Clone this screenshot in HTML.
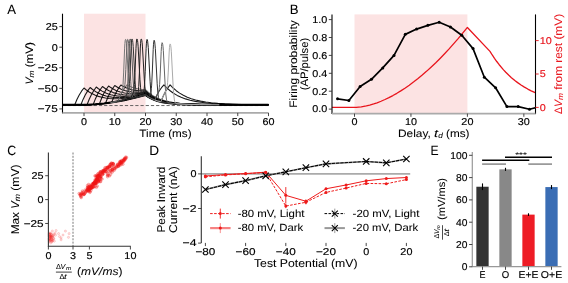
<!DOCTYPE html>
<html><head><meta charset="utf-8"><style>
html,body{margin:0;padding:0;background:#fff;width:568px;height:283px;overflow:hidden}
svg{display:block;will-change:transform}
text{font-family:"Liberation Sans",sans-serif;white-space:pre;text-rendering:geometricPrecision;stroke-width:0.06px}
</style></head><body>
<svg width="568" height="283" viewBox="0 0 568 283">
<rect width="568" height="283" fill="#fff"/>
<rect x="84.00" y="13.70" width="61.50" height="99.20" fill="#fce3e3"/>
<line x1="62.50" y1="105.55" x2="268.50" y2="105.55" stroke="#555" stroke-width="0.9" stroke-dasharray="3.2,2"/>
<polyline points="62.47,104.81 74.77,104.81 76.93,99.52 79.08,95.19 81.54,91.20 84.00,88.02 86.77,90.32 89.53,92.23 92.30,93.82 95.38,95.25 98.45,96.38 101.83,97.32 105.52,98.04 109.21,98.49 112.90,98.71 116.90,98.72 121.21,98.52 125.51,98.11 130.12,97.50 135.04,96.65 140.27,95.58 145.50,94.34 148.27,96.32 151.03,97.93 154.11,99.36 157.49,100.60 161.18,101.62 165.18,102.45 169.79,103.14 175.02,103.68 179.94,104.03 185.78,104.31 200.85,104.64 222.68,104.78 268.50,104.81" fill="none" stroke="#000" stroke-width="1.1" stroke-linejoin="round" stroke-opacity="0.9"/>
<polyline points="62.47,104.81 80.92,104.81 83.08,99.42 85.23,94.99 87.69,90.86 90.15,87.51 91.99,89.04 94.15,90.61 96.30,91.96 98.76,93.28 101.22,94.37 103.68,95.27 106.14,95.99 108.91,96.62 112.60,97.19 116.59,97.51 120.90,97.58 125.20,97.39 129.82,96.95 134.74,96.26 139.96,95.30 145.50,94.08 148.27,96.10 151.03,97.74 154.11,99.20 157.18,100.36 160.57,101.36 164.56,102.25 168.87,102.95 173.48,103.49 178.71,103.91 184.55,104.23 199.93,104.62 222.07,104.77 268.50,104.81" fill="none" stroke="#000" stroke-width="1.1" stroke-linejoin="round" stroke-opacity="0.9"/>
<polyline points="62.47,104.81 87.07,104.76 89.23,99.26 91.38,94.71 93.84,90.45 96.30,87.01 98.14,88.49 100.30,89.99 102.14,91.12 104.29,92.25 106.45,93.21 108.60,94.01 110.75,94.67 113.21,95.28 116.59,95.86 119.98,96.21 123.67,96.36 127.66,96.28 131.97,95.96 136.27,95.43 140.89,94.67 145.50,93.74 147.96,95.60 150.73,97.32 153.80,98.85 156.88,100.07 160.26,101.12 164.26,102.07 168.56,102.81 173.17,103.38 178.40,103.84 184.24,104.17 199.62,104.60 222.07,104.76 268.50,104.81" fill="none" stroke="#000" stroke-width="1.1" stroke-linejoin="round" stroke-opacity="0.9"/>
<polyline points="62.47,104.81 84.92,104.80 93.22,104.47 95.38,98.91 97.53,94.32 99.99,90.01 102.45,86.50 105.83,88.96 107.68,90.08 109.52,91.05 113.21,92.60 117.21,93.79 120.28,94.41 123.36,94.81 126.74,95.03 130.12,95.05 133.81,94.88 137.50,94.53 141.50,93.98 145.50,93.27 147.96,95.19 150.73,96.97 153.80,98.56 156.88,99.82 160.26,100.91 164.26,101.90 168.56,102.68 173.17,103.28 178.40,103.76 184.55,104.13 191.62,104.40 199.93,104.58 222.37,104.76 268.50,104.81" fill="none" stroke="#000" stroke-width="1.1" stroke-linejoin="round" stroke-opacity="0.9"/>
<polyline points="62.47,104.81 86.46,104.78 92.61,104.51 99.37,103.96 101.53,98.43 103.68,93.83 106.14,89.52 108.60,85.99 110.44,87.33 112.29,88.50 114.13,89.52 115.98,90.40 118.13,91.26 120.28,91.97 122.44,92.54 124.59,92.99 129.20,93.56 134.12,93.70 139.66,93.40 145.50,92.65 148.27,94.87 151.03,96.69 154.11,98.31 157.18,99.60 160.57,100.73 164.26,101.67 168.56,102.50 173.17,103.14 178.40,103.65 184.55,104.05 191.62,104.34 200.23,104.55 222.99,104.75 268.50,104.81" fill="none" stroke="#000" stroke-width="1.1" stroke-linejoin="round" stroke-opacity="0.9"/>
<polyline points="62.47,104.81 84.31,104.81 88.30,104.72 96.61,104.21 105.52,103.27 107.68,97.81 109.83,93.27 112.29,88.99 114.75,85.48 117.82,87.47 121.21,89.17 124.59,90.44 128.28,91.40 132.28,92.02 136.27,92.29 140.89,92.22 145.50,91.83 148.27,94.17 151.03,96.08 154.11,97.79 157.18,99.17 160.57,100.36 164.56,101.45 168.87,102.32 173.48,103.00 179.02,103.57 185.17,103.99 192.24,104.30 200.85,104.52 223.60,104.74 268.50,104.81" fill="none" stroke="#000" stroke-width="1.1" stroke-linejoin="round" stroke-opacity="0.9"/>
<polyline points="62.47,104.81 84.31,104.81 90.15,104.64 95.38,104.31 100.60,103.84 106.14,103.19 111.67,102.41 113.83,97.08 115.98,92.64 118.44,88.43 120.90,84.98 123.36,86.47 126.13,87.83 128.89,88.89 131.97,89.76 135.04,90.35 138.43,90.73 141.81,90.86 145.50,90.76 148.27,93.25 151.03,95.28 154.11,97.12 157.18,98.60 160.57,99.89 164.56,101.07 168.87,102.02 173.79,102.80 179.32,103.42 185.47,103.88 192.85,104.24 201.46,104.48 224.53,104.73 268.50,104.80" fill="none" stroke="#000" stroke-width="1.1" stroke-linejoin="round" stroke-opacity="0.9"/>
<polyline points="62.47,104.81 84.92,104.80 92.61,104.51 98.76,104.02 104.91,103.35 111.37,102.45 117.82,101.38 119.98,96.37 122.13,92.17 124.59,88.19 127.05,84.89 129.20,86.03 131.35,86.98 133.51,87.75 135.66,88.36 137.81,88.83 140.27,89.21 142.73,89.44 145.50,89.54 148.27,92.20 151.34,94.60 154.42,96.53 157.80,98.23 161.49,99.68 165.49,100.88 169.79,101.86 174.71,102.67 180.25,103.32 186.40,103.81 193.78,104.18 202.39,104.44 225.45,104.72 268.50,104.80" fill="none" stroke="#000" stroke-width="1.1" stroke-linejoin="round" stroke-opacity="0.5"/>
<polyline points="62.47,104.81 87.69,104.74 95.68,104.29 103.99,103.46 114.13,102.02 124.28,100.14 134.74,97.78 145.50,94.93 147.65,96.45 149.80,97.73 152.26,98.96 154.72,99.98 156.88,95.19 159.03,91.29 161.49,87.72 163.95,84.89 167.02,88.09 170.10,90.76 173.48,93.21 177.17,95.39 181.17,97.28 185.47,98.90 190.09,100.24 195.31,101.40 200.85,102.30 206.69,102.99 213.15,103.54 220.84,103.98 229.45,104.29 239.59,104.51 268.50,104.75" fill="none" stroke="#000" stroke-width="1.1" stroke-linejoin="round" stroke-opacity="0.9"/>
<polyline points="62.47,104.81 87.69,104.74 95.68,104.29 103.99,103.46 114.13,102.02 124.28,100.14 134.74,97.78 145.50,94.93 147.04,96.04 148.88,97.21 152.57,99.10 156.57,100.62 160.87,101.81 163.03,96.46 165.18,92.09 166.41,89.97 167.64,88.08 170.10,84.89 173.17,88.04 176.25,90.68 179.63,93.10 183.32,95.27 187.32,97.17 191.32,98.68 195.62,99.98 200.54,101.13 205.77,102.05 211.30,102.77 217.76,103.38 224.83,103.84 232.83,104.18 242.36,104.44 268.50,104.72" fill="none" stroke="#000" stroke-width="1.1" stroke-linejoin="round" stroke-opacity="0.9"/>
<polyline points="62.47,104.81 87.69,104.74 95.68,104.29 103.99,103.46 114.13,102.02 124.28,100.14 134.74,97.78 145.50,94.93 148.27,96.84 151.03,98.38 154.11,99.74 157.49,100.91 161.18,101.88 165.18,102.66 169.79,103.30 174.71,103.78 185.47,104.36 200.23,104.67 221.76,104.78 268.50,104.81" fill="none" stroke="#000" stroke-width="2.1" stroke-linejoin="round"/>
<polyline points="110.44,102.59 117.82,101.38 119.36,97.71 121.51,93.22 122.13,91.51 122.44,90.04 122.74,87.71 123.05,84.09 123.67,72.07 124.59,48.87 124.90,43.52 125.20,40.45 125.51,39.38 125.82,39.63 126.13,40.84 126.43,43.29 126.74,47.01 128.59,81.88 129.20,90.27 129.82,95.11 130.12,96.46 130.43,97.31 130.74,97.80 131.05,98.06 131.35,98.17 132.58,98.07 138.73,96.63 145.50,94.85 148.27,96.77 151.03,98.32 154.11,99.70 157.49,100.88 161.18,101.85 165.18,102.64 169.79,103.29 174.71,103.77" fill="none" stroke="#777" stroke-width="1.0" stroke-linejoin="round"/>
<polyline points="112.60,102.26 117.82,101.38 120.28,95.72 121.82,92.73 123.67,89.52 124.28,88.01 124.59,86.66 124.90,84.47 125.20,81.03 125.82,69.55 126.74,47.31 127.05,42.19 127.36,39.83 127.66,39.38 127.97,39.62 128.28,40.83 128.59,43.25 128.89,46.94 130.74,81.53 131.35,89.84 131.97,94.64 132.28,95.98 132.58,96.82 132.89,97.30 133.20,97.56 133.51,97.66 134.43,97.61 139.66,96.38 145.50,94.84 148.27,96.76 151.34,98.47 154.72,99.93 158.11,101.05 162.10,102.05 166.41,102.84 171.33,103.46 176.86,103.93" fill="none" stroke="#666" stroke-width="1.0" stroke-linejoin="round"/>
<polyline points="115.06,101.86 123.97,100.20 126.13,95.49 126.74,93.70 127.05,92.16 127.36,89.71 127.66,85.91 128.28,73.29 129.20,48.93 129.51,43.31 129.82,40.09 130.12,38.97 130.43,39.21 130.74,40.41 131.05,42.82 131.35,46.49 133.20,80.99 133.81,89.28 134.43,94.06 134.74,95.39 135.04,96.23 135.35,96.71 135.66,96.96 135.97,97.06 136.89,97.00 145.50,94.82 148.57,96.93 151.65,98.60 155.03,100.03 159.03,101.31 163.33,102.30 167.95,103.05 173.17,103.64 179.32,104.08" fill="none" stroke="#555" stroke-width="1.0" stroke-linejoin="round"/>
<polyline points="116.90,101.55 123.97,100.20 125.82,96.19 127.97,92.13 128.59,90.53 128.89,89.11 129.20,86.83 129.51,83.27 130.12,71.36 131.05,48.33 131.35,43.02 131.66,40.00 131.97,38.97 132.28,39.20 132.58,40.39 132.89,42.78 133.20,46.43 135.04,80.66 135.66,88.88 136.27,93.62 136.58,94.95 136.89,95.77 137.20,96.25 137.50,96.49 137.81,96.59 138.43,96.58 145.50,94.80 148.57,96.92 151.96,98.74 155.34,100.14 159.34,101.38 163.95,102.41 168.87,103.17 174.40,103.74 181.17,104.18" fill="none" stroke="#333" stroke-width="1.0" stroke-linejoin="round"/>
<polyline points="121.82,100.63 130.12,98.87 132.89,93.53 133.51,91.91 133.81,90.47 134.12,88.13 134.43,84.47 135.04,72.25 135.97,48.57 136.27,43.13 136.58,40.02 136.89,38.97 137.20,39.19 137.50,40.35 137.81,42.69 138.12,46.25 139.96,79.75 140.58,87.79 141.19,92.42 141.50,93.71 141.81,94.51 142.12,94.97 142.42,95.20 143.04,95.30 145.50,94.73 147.04,95.86 148.88,97.05 150.73,98.09 152.88,99.12 155.03,99.99 157.18,100.73 162.10,102.03 166.72,102.86 172.25,103.54 178.71,104.04 186.09,104.38" fill="none" stroke="#222" stroke-width="1.0" stroke-linejoin="round"/>
<polyline points="126.13,99.75 136.27,97.40 137.20,95.65 137.81,93.98 138.12,92.49 138.43,90.07 138.73,86.27 139.35,73.56 140.27,48.94 140.58,43.28 140.89,40.05 141.19,38.97 141.50,39.18 141.81,40.31 142.12,42.59 142.42,46.09 144.27,78.89 144.88,86.76 145.19,89.41 145.81,92.87 146.11,93.97 146.73,95.25 147.34,95.93 148.88,96.99 151.03,98.19 153.19,99.21 155.34,100.07 157.49,100.80 162.41,102.07 167.95,103.03 174.10,103.70 181.48,104.19 190.39,104.50" fill="none" stroke="#222" stroke-width="1.0" stroke-linejoin="round"/>
<polyline points="131.97,98.45 142.42,95.79 143.35,93.32 143.65,92.19 143.96,90.56 144.27,88.06 144.58,84.24 145.19,71.77 146.11,48.45 146.42,43.20 146.73,40.27 147.04,39.38 147.34,39.88 147.65,41.28 148.27,47.56 150.11,81.65 150.73,89.95 151.03,92.81 151.65,96.40 151.96,97.40 152.57,98.52 153.19,99.04 154.11,99.50 156.26,100.32 158.41,101.01 163.03,102.16 167.95,103.00 173.48,103.63 179.63,104.08 187.01,104.40 196.24,104.61" fill="none" stroke="#222" stroke-width="1.0" stroke-linejoin="round"/>
<polyline points="139.04,96.69 145.50,94.93 148.57,97.03 150.11,94.09 150.73,92.48 151.03,91.04 151.34,88.73 151.65,85.12 152.26,73.03 153.19,49.64 153.49,44.27 153.80,41.22 154.11,40.20 154.42,40.63 154.72,42.01 155.34,48.42 157.18,83.75 157.80,92.32 158.41,97.39 158.72,98.88 159.03,99.87 159.34,100.51 159.64,100.91 160.26,101.34 162.72,102.00 167.64,102.89 173.48,103.59 179.02,104.02 185.78,104.34 203.31,104.69" fill="none" stroke="#333" stroke-width="1.0" stroke-linejoin="round"/>
<polyline points="147.04,96.04 148.88,97.21 150.73,98.22 152.57,99.10 154.72,99.98 156.26,96.46 158.11,92.79 158.72,91.19 159.03,89.81 159.34,87.64 159.64,84.26 160.26,73.07 161.18,51.47 161.49,46.49 161.80,43.65 162.10,42.67 162.41,43.04 162.72,44.36 163.03,46.89 163.33,50.66 165.18,85.63 165.79,94.10 166.41,99.08 166.72,100.52 167.02,101.47 167.33,102.07 167.95,102.65 169.18,102.99 174.10,103.58 179.94,104.03 192.55,104.52 211.30,104.74" fill="none" stroke="#666" stroke-width="1.0" stroke-linejoin="round"/>
<polyline points="155.03,100.09 157.80,101.00 160.87,101.81 162.10,98.62 163.33,95.78 164.56,93.25 166.10,90.41 166.72,88.90 167.02,87.63 167.33,85.60 167.64,82.47 168.25,72.09 169.18,52.07 169.48,47.46 169.79,44.82 170.10,43.91 170.41,44.25 170.71,45.54 171.02,48.04 171.33,51.79 173.17,86.62 173.79,95.04 174.40,99.98 174.71,101.40 175.02,102.33 175.33,102.91 175.94,103.46 176.86,103.69 186.09,104.27 199.31,104.62 219.30,104.77" fill="none" stroke="#aaa" stroke-width="1.0" stroke-linejoin="round"/>
<line x1="62.50" y1="13.70" x2="62.50" y2="113.40" stroke="#000" stroke-width="1.1"/>
<line x1="62.50" y1="112.90" x2="268.50" y2="112.90" stroke="#aaa" stroke-width="1.6"/>
<line x1="59.30" y1="26.63" x2="62.50" y2="26.63" stroke="#333" stroke-width="0.9"/>
<text x="57.70" y="29.98" font-size="9.92" text-anchor="end" textLength="12.02" lengthAdjust="spacingAndGlyphs" stroke="#000" style="stroke-width:0.16px">25</text>
<line x1="59.30" y1="47.20" x2="62.50" y2="47.20" stroke="#333" stroke-width="0.9"/>
<text x="57.70" y="50.55" font-size="9.92" text-anchor="end" textLength="6.01" lengthAdjust="spacingAndGlyphs" stroke="#000" style="stroke-width:0.16px">0</text>
<line x1="59.30" y1="67.78" x2="62.50" y2="67.78" stroke="#333" stroke-width="0.9"/>
<text x="57.70" y="71.12" font-size="9.92" text-anchor="end" textLength="19.94" lengthAdjust="spacingAndGlyphs" stroke="#000" style="stroke-width:0.16px">−25</text>
<line x1="59.30" y1="88.35" x2="62.50" y2="88.35" stroke="#333" stroke-width="0.9"/>
<text x="57.70" y="91.70" font-size="9.92" text-anchor="end" textLength="19.94" lengthAdjust="spacingAndGlyphs" stroke="#000" style="stroke-width:0.16px">−50</text>
<line x1="59.30" y1="108.92" x2="62.50" y2="108.92" stroke="#333" stroke-width="0.9"/>
<text x="57.70" y="112.27" font-size="9.92" text-anchor="end" textLength="19.94" lengthAdjust="spacingAndGlyphs" stroke="#000" style="stroke-width:0.16px">−75</text>
<line x1="84.00" y1="112.90" x2="84.00" y2="116.10" stroke="#333" stroke-width="0.9"/>
<text x="84.00" y="124.70" font-size="9.92" text-anchor="middle" textLength="6.01" lengthAdjust="spacingAndGlyphs" stroke="#000" style="stroke-width:0.16px">0</text>
<line x1="114.75" y1="112.90" x2="114.75" y2="116.10" stroke="#333" stroke-width="0.9"/>
<text x="114.75" y="124.70" font-size="9.92" text-anchor="middle" textLength="12.02" lengthAdjust="spacingAndGlyphs" stroke="#000" style="stroke-width:0.16px">10</text>
<line x1="145.50" y1="112.90" x2="145.50" y2="116.10" stroke="#333" stroke-width="0.9"/>
<text x="145.50" y="124.70" font-size="9.92" text-anchor="middle" textLength="12.02" lengthAdjust="spacingAndGlyphs" stroke="#000" style="stroke-width:0.16px">20</text>
<line x1="176.25" y1="112.90" x2="176.25" y2="116.10" stroke="#333" stroke-width="0.9"/>
<text x="176.25" y="124.70" font-size="9.92" text-anchor="middle" textLength="12.02" lengthAdjust="spacingAndGlyphs" stroke="#000" style="stroke-width:0.16px">30</text>
<line x1="207.00" y1="112.90" x2="207.00" y2="116.10" stroke="#333" stroke-width="0.9"/>
<text x="207.00" y="124.70" font-size="9.92" text-anchor="middle" textLength="12.02" lengthAdjust="spacingAndGlyphs" stroke="#000" style="stroke-width:0.16px">40</text>
<line x1="237.75" y1="112.90" x2="237.75" y2="116.10" stroke="#333" stroke-width="0.9"/>
<text x="237.75" y="124.70" font-size="9.92" text-anchor="middle" textLength="12.02" lengthAdjust="spacingAndGlyphs" stroke="#000" style="stroke-width:0.16px">50</text>
<line x1="268.50" y1="112.90" x2="268.50" y2="116.10" stroke="#333" stroke-width="0.9"/>
<text x="268.50" y="124.70" font-size="9.92" text-anchor="middle" textLength="12.02" lengthAdjust="spacingAndGlyphs" stroke="#000" style="stroke-width:0.16px">60</text>
<text x="165.50" y="137.00" font-size="10.82" text-anchor="middle" textLength="52.23" lengthAdjust="spacingAndGlyphs" stroke="#000">Time (ms)</text>
<g transform="translate(32.50 63.35) rotate(-90)">
<text x="-21.23" y="0.00" font-size="10.82" textLength="7.05" lengthAdjust="spacingAndGlyphs" stroke="#000" font-style="italic">V</text>
<text x="-14.18" y="1.40" font-size="7.57" textLength="7.02" lengthAdjust="spacingAndGlyphs" stroke="#000" font-style="italic">m</text>
<text x="-7.16" y="0.00" font-size="10.82" textLength="28.39" lengthAdjust="spacingAndGlyphs" stroke="#000"> (mV)</text>
</g>
<text x="7.30" y="13.60" font-size="13.44" textLength="8.76" lengthAdjust="spacingAndGlyphs" stroke="#000">A</text>
<rect x="354.50" y="14.40" width="112.90" height="99.20" fill="#fce3e3"/>
<defs><clipPath id="cb"><rect x="332.0" y="14.4" width="203.5" height="99.19999999999999"/></clipPath></defs>
<polyline points="331.92,107.40 356.19,107.35 361.27,106.85 366.35,105.92 369.74,105.09 373.69,103.93 377.08,102.77 381.03,101.24 384.98,99.52 388.93,97.63 392.89,95.55 396.84,93.31 400.79,90.90 405.31,87.94 409.26,85.19 413.77,81.84 417.72,78.75 422.24,75.03 426.76,71.11 431.27,67.00 435.79,62.70 440.30,58.21 444.82,53.53 449.34,48.67 458.37,38.41 467.40,27.44 489.98,51.35 492.24,54.97 494.50,58.35 496.75,61.51 499.01,64.47 503.53,69.83 505.79,72.25 508.61,75.06 511.43,77.65 514.82,80.48 517.64,82.63 521.03,84.99 524.41,87.12 527.80,89.05 531.19,90.80 535.14,92.63" fill="none" stroke="#e8141c" stroke-width="1.3" stroke-linejoin="round"/>
<g clip-path="url(#cb)">
<polyline points="337.56,98.81 348.86,100.51 360.14,86.50 371.44,79.30 382.73,67.93 394.01,55.40 405.31,34.37 416.60,29.09 427.88,25.33 439.18,22.28 450.46,27.03 461.75,35.30 473.04,48.60 484.33,77.24 495.62,87.80 506.91,106.59 518.20,106.59 529.50,109.28 540.78,106.41" fill="none" stroke="#000" stroke-width="1.7" stroke-linejoin="round"/>
<circle cx="337.56" cy="98.81" r="1.5" fill="#000"/>
<circle cx="348.86" cy="100.51" r="1.5" fill="#000"/>
<circle cx="360.14" cy="86.50" r="1.5" fill="#000"/>
<circle cx="371.44" cy="79.30" r="1.5" fill="#000"/>
<circle cx="382.73" cy="67.93" r="1.5" fill="#000"/>
<circle cx="394.01" cy="55.40" r="1.5" fill="#000"/>
<circle cx="405.31" cy="34.37" r="1.5" fill="#000"/>
<circle cx="416.60" cy="29.09" r="1.5" fill="#000"/>
<circle cx="427.88" cy="25.33" r="1.5" fill="#000"/>
<circle cx="439.18" cy="22.28" r="1.5" fill="#000"/>
<circle cx="450.46" cy="27.03" r="1.5" fill="#000"/>
<circle cx="461.75" cy="35.30" r="1.5" fill="#000"/>
<circle cx="473.04" cy="48.60" r="1.5" fill="#000"/>
<circle cx="484.33" cy="77.24" r="1.5" fill="#000"/>
<circle cx="495.62" cy="87.80" r="1.5" fill="#000"/>
<circle cx="506.91" cy="106.59" r="1.5" fill="#000"/>
<circle cx="518.20" cy="106.59" r="1.5" fill="#000"/>
<circle cx="529.50" cy="109.28" r="1.5" fill="#000"/>
</g>
<line x1="332.00" y1="14.40" x2="332.00" y2="114.10" stroke="#000" stroke-width="1.1"/>
<line x1="535.50" y1="14.40" x2="535.50" y2="114.10" stroke="#000" stroke-width="1.1"/>
<line x1="332.00" y1="113.60" x2="535.50" y2="113.60" stroke="#aaa" stroke-width="1.6"/>
<line x1="328.80" y1="109.10" x2="332.00" y2="109.10" stroke="#333" stroke-width="0.9"/>
<text x="327.20" y="112.45" font-size="9.92" text-anchor="end" textLength="15.03" lengthAdjust="spacingAndGlyphs" stroke="#000" style="stroke-width:0.16px">0.0</text>
<line x1="328.80" y1="91.20" x2="332.00" y2="91.20" stroke="#333" stroke-width="0.9"/>
<text x="327.20" y="94.55" font-size="9.92" text-anchor="end" textLength="15.03" lengthAdjust="spacingAndGlyphs" stroke="#000" style="stroke-width:0.16px">0.2</text>
<line x1="328.80" y1="73.30" x2="332.00" y2="73.30" stroke="#333" stroke-width="0.9"/>
<text x="327.20" y="76.65" font-size="9.92" text-anchor="end" textLength="15.03" lengthAdjust="spacingAndGlyphs" stroke="#000" style="stroke-width:0.16px">0.4</text>
<line x1="328.80" y1="55.40" x2="332.00" y2="55.40" stroke="#333" stroke-width="0.9"/>
<text x="327.20" y="58.75" font-size="9.92" text-anchor="end" textLength="15.03" lengthAdjust="spacingAndGlyphs" stroke="#000" style="stroke-width:0.16px">0.6</text>
<line x1="328.80" y1="37.50" x2="332.00" y2="37.50" stroke="#333" stroke-width="0.9"/>
<text x="327.20" y="40.85" font-size="9.92" text-anchor="end" textLength="15.03" lengthAdjust="spacingAndGlyphs" stroke="#000" style="stroke-width:0.16px">0.8</text>
<line x1="328.80" y1="19.60" x2="332.00" y2="19.60" stroke="#333" stroke-width="0.9"/>
<text x="327.20" y="22.95" font-size="9.92" text-anchor="end" textLength="15.03" lengthAdjust="spacingAndGlyphs" stroke="#000" style="stroke-width:0.16px">1.0</text>
<line x1="535.50" y1="107.40" x2="538.70" y2="107.40" stroke="#e8141c" stroke-width="0.9"/>
<text x="539.70" y="110.75" font-size="9.92" textLength="6.01" lengthAdjust="spacingAndGlyphs" stroke="#e8141c" fill="#e8141c" style="stroke-width:0.16px">0</text>
<line x1="535.50" y1="74.00" x2="538.70" y2="74.00" stroke="#e8141c" stroke-width="0.9"/>
<text x="539.70" y="77.35" font-size="9.92" textLength="6.01" lengthAdjust="spacingAndGlyphs" stroke="#e8141c" fill="#e8141c" style="stroke-width:0.16px">5</text>
<line x1="535.50" y1="40.60" x2="538.70" y2="40.60" stroke="#e8141c" stroke-width="0.9"/>
<text x="539.70" y="43.95" font-size="9.92" textLength="12.02" lengthAdjust="spacingAndGlyphs" stroke="#e8141c" fill="#e8141c" style="stroke-width:0.16px">10</text>
<line x1="354.50" y1="113.60" x2="354.50" y2="116.80" stroke="#333" stroke-width="0.9"/>
<text x="354.50" y="125.40" font-size="9.92" text-anchor="middle" textLength="6.01" lengthAdjust="spacingAndGlyphs" stroke="#000" style="stroke-width:0.16px">0</text>
<line x1="410.95" y1="113.60" x2="410.95" y2="116.80" stroke="#333" stroke-width="0.9"/>
<text x="410.95" y="125.40" font-size="9.92" text-anchor="middle" textLength="12.02" lengthAdjust="spacingAndGlyphs" stroke="#000" style="stroke-width:0.16px">10</text>
<line x1="467.40" y1="113.60" x2="467.40" y2="116.80" stroke="#333" stroke-width="0.9"/>
<text x="467.40" y="125.40" font-size="9.92" text-anchor="middle" textLength="12.02" lengthAdjust="spacingAndGlyphs" stroke="#000" style="stroke-width:0.16px">20</text>
<line x1="523.85" y1="113.60" x2="523.85" y2="116.80" stroke="#333" stroke-width="0.9"/>
<text x="523.85" y="125.40" font-size="9.92" text-anchor="middle" textLength="12.02" lengthAdjust="spacingAndGlyphs" stroke="#000" style="stroke-width:0.16px">30</text>
<text x="398.04" y="137.00" font-size="10.82" textLength="36.09" lengthAdjust="spacingAndGlyphs" stroke="#000">Delay, </text>
<text x="434.13" y="137.00" font-size="10.82" textLength="4.04" lengthAdjust="spacingAndGlyphs" stroke="#000" font-style="italic">t</text>
<text x="438.17" y="138.40" font-size="7.57" textLength="4.58" lengthAdjust="spacingAndGlyphs" stroke="#000" font-style="italic">d</text>
<text x="442.74" y="137.00" font-size="10.82" textLength="26.71" lengthAdjust="spacingAndGlyphs" stroke="#000"> (ms)</text>
<text x="297.20" y="64.00" font-size="10.82" text-anchor="middle" textLength="87.40" lengthAdjust="spacingAndGlyphs" stroke="#000" transform="rotate(-90 297.20 64.00)">Firing probability</text>
<text x="308.30" y="64.00" font-size="10.82" text-anchor="middle" textLength="52.40" lengthAdjust="spacingAndGlyphs" stroke="#000" transform="rotate(-90 308.30 64.00)">(AP/pulse)</text>
<g transform="translate(561.80 64.00) rotate(-90)" fill="#e8141c">
<text x="-50.11" y="0.00" font-size="10.82" textLength="7.05" lengthAdjust="spacingAndGlyphs" stroke="#e8141c" fill="#e8141c">Δ</text>
<text x="-43.07" y="0.00" font-size="10.82" textLength="7.05" lengthAdjust="spacingAndGlyphs" stroke="#e8141c" fill="#e8141c" font-style="italic">V</text>
<text x="-36.02" y="1.40" font-size="7.57" textLength="7.02" lengthAdjust="spacingAndGlyphs" stroke="#e8141c" fill="#e8141c" font-style="italic">m</text>
<text x="-29.00" y="0.00" font-size="10.82" textLength="79.11" lengthAdjust="spacingAndGlyphs" stroke="#e8141c" fill="#e8141c"> from rest (mV)</text>
</g>
<text x="289.80" y="13.60" font-size="13.44" textLength="8.78" lengthAdjust="spacingAndGlyphs" stroke="#000">B</text>
<circle cx="79.08" cy="193.50" r="1.3" fill="#f01818" fill-opacity="0.25" stroke="#f01818" stroke-opacity="0.42" stroke-width="0.55"/>
<circle cx="80.28" cy="195.42" r="1.3" fill="#f01818" fill-opacity="0.25" stroke="#f01818" stroke-opacity="0.42" stroke-width="0.55"/>
<circle cx="89.85" cy="192.52" r="1.3" fill="#f01818" fill-opacity="0.25" stroke="#f01818" stroke-opacity="0.42" stroke-width="0.55"/>
<circle cx="83.55" cy="191.98" r="1.3" fill="#f01818" fill-opacity="0.25" stroke="#f01818" stroke-opacity="0.42" stroke-width="0.55"/>
<circle cx="82.91" cy="193.70" r="1.3" fill="#f01818" fill-opacity="0.25" stroke="#f01818" stroke-opacity="0.42" stroke-width="0.55"/>
<circle cx="81.29" cy="197.62" r="1.3" fill="#f01818" fill-opacity="0.25" stroke="#f01818" stroke-opacity="0.42" stroke-width="0.55"/>
<circle cx="89.80" cy="188.85" r="1.3" fill="#f01818" fill-opacity="0.25" stroke="#f01818" stroke-opacity="0.42" stroke-width="0.55"/>
<circle cx="80.82" cy="196.97" r="1.3" fill="#f01818" fill-opacity="0.25" stroke="#f01818" stroke-opacity="0.42" stroke-width="0.55"/>
<circle cx="89.76" cy="188.76" r="1.3" fill="#f01818" fill-opacity="0.25" stroke="#f01818" stroke-opacity="0.42" stroke-width="0.55"/>
<circle cx="87.93" cy="190.24" r="1.3" fill="#f01818" fill-opacity="0.25" stroke="#f01818" stroke-opacity="0.42" stroke-width="0.55"/>
<circle cx="86.98" cy="190.88" r="1.3" fill="#f01818" fill-opacity="0.25" stroke="#f01818" stroke-opacity="0.42" stroke-width="0.55"/>
<circle cx="87.90" cy="189.82" r="1.3" fill="#f01818" fill-opacity="0.25" stroke="#f01818" stroke-opacity="0.42" stroke-width="0.55"/>
<circle cx="84.71" cy="193.63" r="1.3" fill="#f01818" fill-opacity="0.25" stroke="#f01818" stroke-opacity="0.42" stroke-width="0.55"/>
<circle cx="83.29" cy="194.15" r="1.3" fill="#f01818" fill-opacity="0.25" stroke="#f01818" stroke-opacity="0.42" stroke-width="0.55"/>
<circle cx="82.33" cy="190.99" r="1.3" fill="#f01818" fill-opacity="0.25" stroke="#f01818" stroke-opacity="0.42" stroke-width="0.55"/>
<circle cx="87.27" cy="190.02" r="1.3" fill="#f01818" fill-opacity="0.25" stroke="#f01818" stroke-opacity="0.42" stroke-width="0.55"/>
<circle cx="81.56" cy="194.19" r="1.3" fill="#f01818" fill-opacity="0.25" stroke="#f01818" stroke-opacity="0.42" stroke-width="0.55"/>
<circle cx="84.96" cy="189.94" r="1.3" fill="#f01818" fill-opacity="0.25" stroke="#f01818" stroke-opacity="0.42" stroke-width="0.55"/>
<circle cx="87.85" cy="188.59" r="1.3" fill="#f01818" fill-opacity="0.25" stroke="#f01818" stroke-opacity="0.42" stroke-width="0.55"/>
<circle cx="81.52" cy="193.90" r="1.3" fill="#f01818" fill-opacity="0.25" stroke="#f01818" stroke-opacity="0.42" stroke-width="0.55"/>
<circle cx="82.12" cy="192.61" r="1.3" fill="#f01818" fill-opacity="0.25" stroke="#f01818" stroke-opacity="0.42" stroke-width="0.55"/>
<circle cx="88.01" cy="190.90" r="1.3" fill="#f01818" fill-opacity="0.25" stroke="#f01818" stroke-opacity="0.42" stroke-width="0.55"/>
<circle cx="80.27" cy="195.01" r="1.3" fill="#f01818" fill-opacity="0.25" stroke="#f01818" stroke-opacity="0.42" stroke-width="0.55"/>
<circle cx="86.52" cy="190.36" r="1.3" fill="#f01818" fill-opacity="0.25" stroke="#f01818" stroke-opacity="0.42" stroke-width="0.55"/>
<circle cx="80.71" cy="193.61" r="1.3" fill="#f01818" fill-opacity="0.25" stroke="#f01818" stroke-opacity="0.42" stroke-width="0.55"/>
<circle cx="85.44" cy="191.92" r="1.3" fill="#f01818" fill-opacity="0.25" stroke="#f01818" stroke-opacity="0.42" stroke-width="0.55"/>
<circle cx="85.68" cy="192.45" r="1.3" fill="#f01818" fill-opacity="0.25" stroke="#f01818" stroke-opacity="0.42" stroke-width="0.55"/>
<circle cx="84.26" cy="194.16" r="1.3" fill="#f01818" fill-opacity="0.25" stroke="#f01818" stroke-opacity="0.42" stroke-width="0.55"/>
<circle cx="84.07" cy="194.51" r="1.3" fill="#f01818" fill-opacity="0.25" stroke="#f01818" stroke-opacity="0.42" stroke-width="0.55"/>
<circle cx="89.04" cy="188.94" r="1.3" fill="#f01818" fill-opacity="0.25" stroke="#f01818" stroke-opacity="0.42" stroke-width="0.55"/>
<circle cx="87.22" cy="187.66" r="1.3" fill="#f01818" fill-opacity="0.25" stroke="#f01818" stroke-opacity="0.42" stroke-width="0.55"/>
<circle cx="83.52" cy="194.69" r="1.3" fill="#f01818" fill-opacity="0.25" stroke="#f01818" stroke-opacity="0.42" stroke-width="0.55"/>
<circle cx="86.27" cy="191.67" r="1.3" fill="#f01818" fill-opacity="0.25" stroke="#f01818" stroke-opacity="0.42" stroke-width="0.55"/>
<circle cx="80.20" cy="194.48" r="1.3" fill="#f01818" fill-opacity="0.25" stroke="#f01818" stroke-opacity="0.42" stroke-width="0.55"/>
<circle cx="81.29" cy="196.13" r="1.3" fill="#f01818" fill-opacity="0.25" stroke="#f01818" stroke-opacity="0.42" stroke-width="0.55"/>
<circle cx="95.36" cy="180.25" r="1.3" fill="#f01818" fill-opacity="0.25" stroke="#f01818" stroke-opacity="0.42" stroke-width="0.55"/>
<circle cx="90.34" cy="186.10" r="1.3" fill="#f01818" fill-opacity="0.25" stroke="#f01818" stroke-opacity="0.42" stroke-width="0.55"/>
<circle cx="91.42" cy="187.63" r="1.3" fill="#f01818" fill-opacity="0.25" stroke="#f01818" stroke-opacity="0.42" stroke-width="0.55"/>
<circle cx="93.29" cy="184.16" r="1.3" fill="#f01818" fill-opacity="0.25" stroke="#f01818" stroke-opacity="0.42" stroke-width="0.55"/>
<circle cx="94.70" cy="182.77" r="1.3" fill="#f01818" fill-opacity="0.25" stroke="#f01818" stroke-opacity="0.42" stroke-width="0.55"/>
<circle cx="89.64" cy="187.13" r="1.3" fill="#f01818" fill-opacity="0.25" stroke="#f01818" stroke-opacity="0.42" stroke-width="0.55"/>
<circle cx="88.82" cy="191.34" r="1.3" fill="#f01818" fill-opacity="0.25" stroke="#f01818" stroke-opacity="0.42" stroke-width="0.55"/>
<circle cx="91.67" cy="187.93" r="1.3" fill="#f01818" fill-opacity="0.25" stroke="#f01818" stroke-opacity="0.42" stroke-width="0.55"/>
<circle cx="98.64" cy="181.92" r="1.3" fill="#f01818" fill-opacity="0.25" stroke="#f01818" stroke-opacity="0.42" stroke-width="0.55"/>
<circle cx="93.79" cy="183.15" r="1.3" fill="#f01818" fill-opacity="0.25" stroke="#f01818" stroke-opacity="0.42" stroke-width="0.55"/>
<circle cx="96.50" cy="187.30" r="1.3" fill="#f01818" fill-opacity="0.25" stroke="#f01818" stroke-opacity="0.42" stroke-width="0.55"/>
<circle cx="87.07" cy="189.68" r="1.3" fill="#f01818" fill-opacity="0.25" stroke="#f01818" stroke-opacity="0.42" stroke-width="0.55"/>
<circle cx="95.55" cy="183.31" r="1.3" fill="#f01818" fill-opacity="0.25" stroke="#f01818" stroke-opacity="0.42" stroke-width="0.55"/>
<circle cx="96.06" cy="183.70" r="1.3" fill="#f01818" fill-opacity="0.25" stroke="#f01818" stroke-opacity="0.42" stroke-width="0.55"/>
<circle cx="95.06" cy="179.71" r="1.3" fill="#f01818" fill-opacity="0.25" stroke="#f01818" stroke-opacity="0.42" stroke-width="0.55"/>
<circle cx="89.07" cy="190.50" r="1.3" fill="#f01818" fill-opacity="0.25" stroke="#f01818" stroke-opacity="0.42" stroke-width="0.55"/>
<circle cx="95.43" cy="181.15" r="1.3" fill="#f01818" fill-opacity="0.25" stroke="#f01818" stroke-opacity="0.42" stroke-width="0.55"/>
<circle cx="89.38" cy="190.06" r="1.3" fill="#f01818" fill-opacity="0.25" stroke="#f01818" stroke-opacity="0.42" stroke-width="0.55"/>
<circle cx="88.37" cy="186.98" r="1.3" fill="#f01818" fill-opacity="0.25" stroke="#f01818" stroke-opacity="0.42" stroke-width="0.55"/>
<circle cx="91.17" cy="186.36" r="1.3" fill="#f01818" fill-opacity="0.25" stroke="#f01818" stroke-opacity="0.42" stroke-width="0.55"/>
<circle cx="93.30" cy="183.14" r="1.3" fill="#f01818" fill-opacity="0.25" stroke="#f01818" stroke-opacity="0.42" stroke-width="0.55"/>
<circle cx="100.19" cy="179.99" r="1.3" fill="#f01818" fill-opacity="0.25" stroke="#f01818" stroke-opacity="0.42" stroke-width="0.55"/>
<circle cx="90.86" cy="186.19" r="1.3" fill="#f01818" fill-opacity="0.25" stroke="#f01818" stroke-opacity="0.42" stroke-width="0.55"/>
<circle cx="87.45" cy="185.44" r="1.3" fill="#f01818" fill-opacity="0.25" stroke="#f01818" stroke-opacity="0.42" stroke-width="0.55"/>
<circle cx="87.90" cy="186.80" r="1.3" fill="#f01818" fill-opacity="0.25" stroke="#f01818" stroke-opacity="0.42" stroke-width="0.55"/>
<circle cx="96.61" cy="179.06" r="1.3" fill="#f01818" fill-opacity="0.25" stroke="#f01818" stroke-opacity="0.42" stroke-width="0.55"/>
<circle cx="92.28" cy="185.30" r="1.3" fill="#f01818" fill-opacity="0.25" stroke="#f01818" stroke-opacity="0.42" stroke-width="0.55"/>
<circle cx="97.28" cy="186.05" r="1.3" fill="#f01818" fill-opacity="0.25" stroke="#f01818" stroke-opacity="0.42" stroke-width="0.55"/>
<circle cx="90.55" cy="187.28" r="1.3" fill="#f01818" fill-opacity="0.25" stroke="#f01818" stroke-opacity="0.42" stroke-width="0.55"/>
<circle cx="91.05" cy="186.72" r="1.3" fill="#f01818" fill-opacity="0.25" stroke="#f01818" stroke-opacity="0.42" stroke-width="0.55"/>
<circle cx="93.90" cy="183.06" r="1.3" fill="#f01818" fill-opacity="0.25" stroke="#f01818" stroke-opacity="0.42" stroke-width="0.55"/>
<circle cx="99.37" cy="180.00" r="1.3" fill="#f01818" fill-opacity="0.25" stroke="#f01818" stroke-opacity="0.42" stroke-width="0.55"/>
<circle cx="95.99" cy="183.54" r="1.3" fill="#f01818" fill-opacity="0.25" stroke="#f01818" stroke-opacity="0.42" stroke-width="0.55"/>
<circle cx="99.82" cy="177.92" r="1.3" fill="#f01818" fill-opacity="0.25" stroke="#f01818" stroke-opacity="0.42" stroke-width="0.55"/>
<circle cx="89.06" cy="188.19" r="1.3" fill="#f01818" fill-opacity="0.25" stroke="#f01818" stroke-opacity="0.42" stroke-width="0.55"/>
<circle cx="94.37" cy="183.17" r="1.3" fill="#f01818" fill-opacity="0.25" stroke="#f01818" stroke-opacity="0.42" stroke-width="0.55"/>
<circle cx="98.34" cy="180.18" r="1.3" fill="#f01818" fill-opacity="0.25" stroke="#f01818" stroke-opacity="0.42" stroke-width="0.55"/>
<circle cx="94.70" cy="184.08" r="1.3" fill="#f01818" fill-opacity="0.25" stroke="#f01818" stroke-opacity="0.42" stroke-width="0.55"/>
<circle cx="97.14" cy="179.15" r="1.3" fill="#f01818" fill-opacity="0.25" stroke="#f01818" stroke-opacity="0.42" stroke-width="0.55"/>
<circle cx="101.06" cy="176.49" r="1.3" fill="#f01818" fill-opacity="0.25" stroke="#f01818" stroke-opacity="0.42" stroke-width="0.55"/>
<circle cx="89.94" cy="185.86" r="1.3" fill="#f01818" fill-opacity="0.25" stroke="#f01818" stroke-opacity="0.42" stroke-width="0.55"/>
<circle cx="94.04" cy="183.81" r="1.3" fill="#f01818" fill-opacity="0.25" stroke="#f01818" stroke-opacity="0.42" stroke-width="0.55"/>
<circle cx="101.22" cy="178.58" r="1.3" fill="#f01818" fill-opacity="0.25" stroke="#f01818" stroke-opacity="0.42" stroke-width="0.55"/>
<circle cx="97.07" cy="179.90" r="1.3" fill="#f01818" fill-opacity="0.25" stroke="#f01818" stroke-opacity="0.42" stroke-width="0.55"/>
<circle cx="97.17" cy="182.78" r="1.3" fill="#f01818" fill-opacity="0.25" stroke="#f01818" stroke-opacity="0.42" stroke-width="0.55"/>
<circle cx="96.05" cy="182.02" r="1.3" fill="#f01818" fill-opacity="0.25" stroke="#f01818" stroke-opacity="0.42" stroke-width="0.55"/>
<circle cx="88.70" cy="184.40" r="1.3" fill="#f01818" fill-opacity="0.25" stroke="#f01818" stroke-opacity="0.42" stroke-width="0.55"/>
<circle cx="91.63" cy="188.28" r="1.3" fill="#f01818" fill-opacity="0.25" stroke="#f01818" stroke-opacity="0.42" stroke-width="0.55"/>
<circle cx="94.89" cy="181.29" r="1.3" fill="#f01818" fill-opacity="0.25" stroke="#f01818" stroke-opacity="0.42" stroke-width="0.55"/>
<circle cx="93.09" cy="186.26" r="1.3" fill="#f01818" fill-opacity="0.25" stroke="#f01818" stroke-opacity="0.42" stroke-width="0.55"/>
<circle cx="96.95" cy="179.18" r="1.3" fill="#f01818" fill-opacity="0.25" stroke="#f01818" stroke-opacity="0.42" stroke-width="0.55"/>
<circle cx="102.14" cy="179.08" r="1.3" fill="#f01818" fill-opacity="0.25" stroke="#f01818" stroke-opacity="0.42" stroke-width="0.55"/>
<circle cx="94.32" cy="183.48" r="1.3" fill="#f01818" fill-opacity="0.25" stroke="#f01818" stroke-opacity="0.42" stroke-width="0.55"/>
<circle cx="87.57" cy="188.17" r="1.3" fill="#f01818" fill-opacity="0.25" stroke="#f01818" stroke-opacity="0.42" stroke-width="0.55"/>
<circle cx="93.18" cy="183.42" r="1.3" fill="#f01818" fill-opacity="0.25" stroke="#f01818" stroke-opacity="0.42" stroke-width="0.55"/>
<circle cx="95.12" cy="183.44" r="1.3" fill="#f01818" fill-opacity="0.25" stroke="#f01818" stroke-opacity="0.42" stroke-width="0.55"/>
<circle cx="89.16" cy="187.24" r="1.3" fill="#f01818" fill-opacity="0.25" stroke="#f01818" stroke-opacity="0.42" stroke-width="0.55"/>
<circle cx="96.18" cy="179.10" r="1.3" fill="#f01818" fill-opacity="0.25" stroke="#f01818" stroke-opacity="0.42" stroke-width="0.55"/>
<circle cx="98.14" cy="179.68" r="1.3" fill="#f01818" fill-opacity="0.25" stroke="#f01818" stroke-opacity="0.42" stroke-width="0.55"/>
<circle cx="98.86" cy="180.84" r="1.3" fill="#f01818" fill-opacity="0.25" stroke="#f01818" stroke-opacity="0.42" stroke-width="0.55"/>
<circle cx="97.85" cy="179.16" r="1.3" fill="#f01818" fill-opacity="0.25" stroke="#f01818" stroke-opacity="0.42" stroke-width="0.55"/>
<circle cx="100.63" cy="176.60" r="1.3" fill="#f01818" fill-opacity="0.25" stroke="#f01818" stroke-opacity="0.42" stroke-width="0.55"/>
<circle cx="96.56" cy="182.52" r="1.3" fill="#f01818" fill-opacity="0.25" stroke="#f01818" stroke-opacity="0.42" stroke-width="0.55"/>
<circle cx="92.52" cy="187.17" r="1.3" fill="#f01818" fill-opacity="0.25" stroke="#f01818" stroke-opacity="0.42" stroke-width="0.55"/>
<circle cx="98.04" cy="178.60" r="1.3" fill="#f01818" fill-opacity="0.25" stroke="#f01818" stroke-opacity="0.42" stroke-width="0.55"/>
<circle cx="91.91" cy="183.96" r="1.3" fill="#f01818" fill-opacity="0.25" stroke="#f01818" stroke-opacity="0.42" stroke-width="0.55"/>
<circle cx="90.86" cy="187.99" r="1.3" fill="#f01818" fill-opacity="0.25" stroke="#f01818" stroke-opacity="0.42" stroke-width="0.55"/>
<circle cx="93.63" cy="186.86" r="1.3" fill="#f01818" fill-opacity="0.25" stroke="#f01818" stroke-opacity="0.42" stroke-width="0.55"/>
<circle cx="91.09" cy="187.11" r="1.3" fill="#f01818" fill-opacity="0.25" stroke="#f01818" stroke-opacity="0.42" stroke-width="0.55"/>
<circle cx="90.21" cy="191.67" r="1.3" fill="#f01818" fill-opacity="0.25" stroke="#f01818" stroke-opacity="0.42" stroke-width="0.55"/>
<circle cx="95.30" cy="184.16" r="1.3" fill="#f01818" fill-opacity="0.25" stroke="#f01818" stroke-opacity="0.42" stroke-width="0.55"/>
<circle cx="91.05" cy="188.36" r="1.3" fill="#f01818" fill-opacity="0.25" stroke="#f01818" stroke-opacity="0.42" stroke-width="0.55"/>
<circle cx="92.69" cy="187.75" r="1.3" fill="#f01818" fill-opacity="0.25" stroke="#f01818" stroke-opacity="0.42" stroke-width="0.55"/>
<circle cx="94.85" cy="183.16" r="1.3" fill="#f01818" fill-opacity="0.25" stroke="#f01818" stroke-opacity="0.42" stroke-width="0.55"/>
<circle cx="95.18" cy="182.22" r="1.3" fill="#f01818" fill-opacity="0.25" stroke="#f01818" stroke-opacity="0.42" stroke-width="0.55"/>
<circle cx="92.97" cy="185.69" r="1.3" fill="#f01818" fill-opacity="0.25" stroke="#f01818" stroke-opacity="0.42" stroke-width="0.55"/>
<circle cx="88.96" cy="189.21" r="1.3" fill="#f01818" fill-opacity="0.25" stroke="#f01818" stroke-opacity="0.42" stroke-width="0.55"/>
<circle cx="97.39" cy="178.77" r="1.3" fill="#f01818" fill-opacity="0.25" stroke="#f01818" stroke-opacity="0.42" stroke-width="0.55"/>
<circle cx="88.04" cy="189.58" r="1.3" fill="#f01818" fill-opacity="0.25" stroke="#f01818" stroke-opacity="0.42" stroke-width="0.55"/>
<circle cx="94.72" cy="181.74" r="1.3" fill="#f01818" fill-opacity="0.25" stroke="#f01818" stroke-opacity="0.42" stroke-width="0.55"/>
<circle cx="93.83" cy="186.90" r="1.3" fill="#f01818" fill-opacity="0.25" stroke="#f01818" stroke-opacity="0.42" stroke-width="0.55"/>
<circle cx="99.77" cy="177.11" r="1.3" fill="#f01818" fill-opacity="0.25" stroke="#f01818" stroke-opacity="0.42" stroke-width="0.55"/>
<circle cx="96.82" cy="180.87" r="1.3" fill="#f01818" fill-opacity="0.25" stroke="#f01818" stroke-opacity="0.42" stroke-width="0.55"/>
<circle cx="94.11" cy="182.57" r="1.3" fill="#f01818" fill-opacity="0.25" stroke="#f01818" stroke-opacity="0.42" stroke-width="0.55"/>
<circle cx="97.51" cy="179.90" r="1.3" fill="#f01818" fill-opacity="0.25" stroke="#f01818" stroke-opacity="0.42" stroke-width="0.55"/>
<circle cx="92.25" cy="184.43" r="1.3" fill="#f01818" fill-opacity="0.25" stroke="#f01818" stroke-opacity="0.42" stroke-width="0.55"/>
<circle cx="98.22" cy="181.27" r="1.3" fill="#f01818" fill-opacity="0.25" stroke="#f01818" stroke-opacity="0.42" stroke-width="0.55"/>
<circle cx="96.19" cy="180.86" r="1.3" fill="#f01818" fill-opacity="0.25" stroke="#f01818" stroke-opacity="0.42" stroke-width="0.55"/>
<circle cx="92.78" cy="184.66" r="1.3" fill="#f01818" fill-opacity="0.25" stroke="#f01818" stroke-opacity="0.42" stroke-width="0.55"/>
<circle cx="90.98" cy="190.46" r="1.3" fill="#f01818" fill-opacity="0.25" stroke="#f01818" stroke-opacity="0.42" stroke-width="0.55"/>
<circle cx="98.00" cy="181.21" r="1.3" fill="#f01818" fill-opacity="0.25" stroke="#f01818" stroke-opacity="0.42" stroke-width="0.55"/>
<circle cx="95.01" cy="186.77" r="1.3" fill="#f01818" fill-opacity="0.25" stroke="#f01818" stroke-opacity="0.42" stroke-width="0.55"/>
<circle cx="100.25" cy="181.51" r="1.3" fill="#f01818" fill-opacity="0.25" stroke="#f01818" stroke-opacity="0.42" stroke-width="0.55"/>
<circle cx="88.97" cy="187.45" r="1.3" fill="#f01818" fill-opacity="0.25" stroke="#f01818" stroke-opacity="0.42" stroke-width="0.55"/>
<circle cx="100.71" cy="181.59" r="1.3" fill="#f01818" fill-opacity="0.25" stroke="#f01818" stroke-opacity="0.42" stroke-width="0.55"/>
<circle cx="91.60" cy="187.15" r="1.3" fill="#f01818" fill-opacity="0.25" stroke="#f01818" stroke-opacity="0.42" stroke-width="0.55"/>
<circle cx="89.96" cy="188.80" r="1.3" fill="#f01818" fill-opacity="0.25" stroke="#f01818" stroke-opacity="0.42" stroke-width="0.55"/>
<circle cx="89.53" cy="189.72" r="1.3" fill="#f01818" fill-opacity="0.25" stroke="#f01818" stroke-opacity="0.42" stroke-width="0.55"/>
<circle cx="100.37" cy="177.95" r="1.3" fill="#f01818" fill-opacity="0.25" stroke="#f01818" stroke-opacity="0.42" stroke-width="0.55"/>
<circle cx="96.56" cy="181.38" r="1.3" fill="#f01818" fill-opacity="0.25" stroke="#f01818" stroke-opacity="0.42" stroke-width="0.55"/>
<circle cx="102.51" cy="174.60" r="1.3" fill="#f01818" fill-opacity="0.25" stroke="#f01818" stroke-opacity="0.42" stroke-width="0.55"/>
<circle cx="107.53" cy="169.40" r="1.3" fill="#f01818" fill-opacity="0.25" stroke="#f01818" stroke-opacity="0.42" stroke-width="0.55"/>
<circle cx="111.48" cy="166.69" r="1.3" fill="#f01818" fill-opacity="0.25" stroke="#f01818" stroke-opacity="0.42" stroke-width="0.55"/>
<circle cx="107.87" cy="168.90" r="1.3" fill="#f01818" fill-opacity="0.25" stroke="#f01818" stroke-opacity="0.42" stroke-width="0.55"/>
<circle cx="100.67" cy="171.85" r="1.3" fill="#f01818" fill-opacity="0.25" stroke="#f01818" stroke-opacity="0.42" stroke-width="0.55"/>
<circle cx="112.11" cy="165.91" r="1.3" fill="#f01818" fill-opacity="0.25" stroke="#f01818" stroke-opacity="0.42" stroke-width="0.55"/>
<circle cx="104.52" cy="170.70" r="1.3" fill="#f01818" fill-opacity="0.25" stroke="#f01818" stroke-opacity="0.42" stroke-width="0.55"/>
<circle cx="113.64" cy="164.61" r="1.3" fill="#f01818" fill-opacity="0.25" stroke="#f01818" stroke-opacity="0.42" stroke-width="0.55"/>
<circle cx="99.56" cy="173.69" r="1.3" fill="#f01818" fill-opacity="0.25" stroke="#f01818" stroke-opacity="0.42" stroke-width="0.55"/>
<circle cx="99.05" cy="175.59" r="1.3" fill="#f01818" fill-opacity="0.25" stroke="#f01818" stroke-opacity="0.42" stroke-width="0.55"/>
<circle cx="103.42" cy="173.63" r="1.3" fill="#f01818" fill-opacity="0.25" stroke="#f01818" stroke-opacity="0.42" stroke-width="0.55"/>
<circle cx="99.36" cy="174.56" r="1.3" fill="#f01818" fill-opacity="0.25" stroke="#f01818" stroke-opacity="0.42" stroke-width="0.55"/>
<circle cx="103.52" cy="170.56" r="1.3" fill="#f01818" fill-opacity="0.25" stroke="#f01818" stroke-opacity="0.42" stroke-width="0.55"/>
<circle cx="102.57" cy="173.84" r="1.3" fill="#f01818" fill-opacity="0.25" stroke="#f01818" stroke-opacity="0.42" stroke-width="0.55"/>
<circle cx="97.47" cy="177.28" r="1.3" fill="#f01818" fill-opacity="0.25" stroke="#f01818" stroke-opacity="0.42" stroke-width="0.55"/>
<circle cx="99.31" cy="175.23" r="1.3" fill="#f01818" fill-opacity="0.25" stroke="#f01818" stroke-opacity="0.42" stroke-width="0.55"/>
<circle cx="104.98" cy="169.10" r="1.3" fill="#f01818" fill-opacity="0.25" stroke="#f01818" stroke-opacity="0.42" stroke-width="0.55"/>
<circle cx="107.62" cy="167.37" r="1.3" fill="#f01818" fill-opacity="0.25" stroke="#f01818" stroke-opacity="0.42" stroke-width="0.55"/>
<circle cx="95.44" cy="176.38" r="1.3" fill="#f01818" fill-opacity="0.25" stroke="#f01818" stroke-opacity="0.42" stroke-width="0.55"/>
<circle cx="105.86" cy="171.60" r="1.3" fill="#f01818" fill-opacity="0.25" stroke="#f01818" stroke-opacity="0.42" stroke-width="0.55"/>
<circle cx="100.76" cy="176.95" r="1.3" fill="#f01818" fill-opacity="0.25" stroke="#f01818" stroke-opacity="0.42" stroke-width="0.55"/>
<circle cx="111.45" cy="164.25" r="1.3" fill="#f01818" fill-opacity="0.25" stroke="#f01818" stroke-opacity="0.42" stroke-width="0.55"/>
<circle cx="107.52" cy="167.39" r="1.3" fill="#f01818" fill-opacity="0.25" stroke="#f01818" stroke-opacity="0.42" stroke-width="0.55"/>
<circle cx="106.24" cy="168.85" r="1.3" fill="#f01818" fill-opacity="0.25" stroke="#f01818" stroke-opacity="0.42" stroke-width="0.55"/>
<circle cx="97.94" cy="175.85" r="1.3" fill="#f01818" fill-opacity="0.25" stroke="#f01818" stroke-opacity="0.42" stroke-width="0.55"/>
<circle cx="100.08" cy="176.36" r="1.3" fill="#f01818" fill-opacity="0.25" stroke="#f01818" stroke-opacity="0.42" stroke-width="0.55"/>
<circle cx="96.90" cy="176.93" r="1.3" fill="#f01818" fill-opacity="0.25" stroke="#f01818" stroke-opacity="0.42" stroke-width="0.55"/>
<circle cx="99.37" cy="174.94" r="1.3" fill="#f01818" fill-opacity="0.25" stroke="#f01818" stroke-opacity="0.42" stroke-width="0.55"/>
<circle cx="111.22" cy="163.13" r="1.3" fill="#f01818" fill-opacity="0.25" stroke="#f01818" stroke-opacity="0.42" stroke-width="0.55"/>
<circle cx="112.35" cy="163.37" r="1.3" fill="#f01818" fill-opacity="0.25" stroke="#f01818" stroke-opacity="0.42" stroke-width="0.55"/>
<circle cx="106.38" cy="171.91" r="1.3" fill="#f01818" fill-opacity="0.25" stroke="#f01818" stroke-opacity="0.42" stroke-width="0.55"/>
<circle cx="104.24" cy="169.82" r="1.3" fill="#f01818" fill-opacity="0.25" stroke="#f01818" stroke-opacity="0.42" stroke-width="0.55"/>
<circle cx="113.24" cy="163.42" r="1.3" fill="#f01818" fill-opacity="0.25" stroke="#f01818" stroke-opacity="0.42" stroke-width="0.55"/>
<circle cx="110.43" cy="164.65" r="1.3" fill="#f01818" fill-opacity="0.25" stroke="#f01818" stroke-opacity="0.42" stroke-width="0.55"/>
<circle cx="104.64" cy="171.22" r="1.3" fill="#f01818" fill-opacity="0.25" stroke="#f01818" stroke-opacity="0.42" stroke-width="0.55"/>
<circle cx="114.04" cy="166.10" r="1.3" fill="#f01818" fill-opacity="0.25" stroke="#f01818" stroke-opacity="0.42" stroke-width="0.55"/>
<circle cx="105.82" cy="171.84" r="1.3" fill="#f01818" fill-opacity="0.25" stroke="#f01818" stroke-opacity="0.42" stroke-width="0.55"/>
<circle cx="108.21" cy="167.58" r="1.3" fill="#f01818" fill-opacity="0.25" stroke="#f01818" stroke-opacity="0.42" stroke-width="0.55"/>
<circle cx="96.49" cy="175.48" r="1.3" fill="#f01818" fill-opacity="0.25" stroke="#f01818" stroke-opacity="0.42" stroke-width="0.55"/>
<circle cx="103.24" cy="172.21" r="1.3" fill="#f01818" fill-opacity="0.25" stroke="#f01818" stroke-opacity="0.42" stroke-width="0.55"/>
<circle cx="100.85" cy="173.02" r="1.3" fill="#f01818" fill-opacity="0.25" stroke="#f01818" stroke-opacity="0.42" stroke-width="0.55"/>
<circle cx="98.35" cy="175.84" r="1.3" fill="#f01818" fill-opacity="0.25" stroke="#f01818" stroke-opacity="0.42" stroke-width="0.55"/>
<circle cx="99.98" cy="171.82" r="1.3" fill="#f01818" fill-opacity="0.25" stroke="#f01818" stroke-opacity="0.42" stroke-width="0.55"/>
<circle cx="106.06" cy="167.49" r="1.3" fill="#f01818" fill-opacity="0.25" stroke="#f01818" stroke-opacity="0.42" stroke-width="0.55"/>
<circle cx="105.96" cy="169.57" r="1.3" fill="#f01818" fill-opacity="0.25" stroke="#f01818" stroke-opacity="0.42" stroke-width="0.55"/>
<circle cx="102.38" cy="172.26" r="1.3" fill="#f01818" fill-opacity="0.25" stroke="#f01818" stroke-opacity="0.42" stroke-width="0.55"/>
<circle cx="102.42" cy="170.70" r="1.3" fill="#f01818" fill-opacity="0.25" stroke="#f01818" stroke-opacity="0.42" stroke-width="0.55"/>
<circle cx="109.49" cy="166.86" r="1.3" fill="#f01818" fill-opacity="0.25" stroke="#f01818" stroke-opacity="0.42" stroke-width="0.55"/>
<circle cx="97.28" cy="175.44" r="1.3" fill="#f01818" fill-opacity="0.25" stroke="#f01818" stroke-opacity="0.42" stroke-width="0.55"/>
<circle cx="102.05" cy="173.69" r="1.3" fill="#f01818" fill-opacity="0.25" stroke="#f01818" stroke-opacity="0.42" stroke-width="0.55"/>
<circle cx="96.95" cy="176.36" r="1.3" fill="#f01818" fill-opacity="0.25" stroke="#f01818" stroke-opacity="0.42" stroke-width="0.55"/>
<circle cx="109.59" cy="166.51" r="1.3" fill="#f01818" fill-opacity="0.25" stroke="#f01818" stroke-opacity="0.42" stroke-width="0.55"/>
<circle cx="113.00" cy="163.88" r="1.3" fill="#f01818" fill-opacity="0.25" stroke="#f01818" stroke-opacity="0.42" stroke-width="0.55"/>
<circle cx="94.94" cy="175.74" r="1.3" fill="#f01818" fill-opacity="0.25" stroke="#f01818" stroke-opacity="0.42" stroke-width="0.55"/>
<circle cx="109.83" cy="166.09" r="1.3" fill="#f01818" fill-opacity="0.25" stroke="#f01818" stroke-opacity="0.42" stroke-width="0.55"/>
<circle cx="99.18" cy="175.76" r="1.3" fill="#f01818" fill-opacity="0.25" stroke="#f01818" stroke-opacity="0.42" stroke-width="0.55"/>
<circle cx="98.22" cy="173.71" r="1.3" fill="#f01818" fill-opacity="0.25" stroke="#f01818" stroke-opacity="0.42" stroke-width="0.55"/>
<circle cx="103.17" cy="171.24" r="1.3" fill="#f01818" fill-opacity="0.25" stroke="#f01818" stroke-opacity="0.42" stroke-width="0.55"/>
<circle cx="111.39" cy="163.25" r="1.3" fill="#f01818" fill-opacity="0.25" stroke="#f01818" stroke-opacity="0.42" stroke-width="0.55"/>
<circle cx="108.52" cy="166.81" r="1.3" fill="#f01818" fill-opacity="0.25" stroke="#f01818" stroke-opacity="0.42" stroke-width="0.55"/>
<circle cx="97.88" cy="173.88" r="1.3" fill="#f01818" fill-opacity="0.25" stroke="#f01818" stroke-opacity="0.42" stroke-width="0.55"/>
<circle cx="105.51" cy="169.99" r="1.3" fill="#f01818" fill-opacity="0.25" stroke="#f01818" stroke-opacity="0.42" stroke-width="0.55"/>
<circle cx="98.14" cy="177.00" r="1.3" fill="#f01818" fill-opacity="0.25" stroke="#f01818" stroke-opacity="0.42" stroke-width="0.55"/>
<circle cx="109.79" cy="167.07" r="1.3" fill="#f01818" fill-opacity="0.25" stroke="#f01818" stroke-opacity="0.42" stroke-width="0.55"/>
<circle cx="107.62" cy="167.90" r="1.3" fill="#f01818" fill-opacity="0.25" stroke="#f01818" stroke-opacity="0.42" stroke-width="0.55"/>
<circle cx="101.23" cy="171.97" r="1.3" fill="#f01818" fill-opacity="0.25" stroke="#f01818" stroke-opacity="0.42" stroke-width="0.55"/>
<circle cx="97.17" cy="176.86" r="1.3" fill="#f01818" fill-opacity="0.25" stroke="#f01818" stroke-opacity="0.42" stroke-width="0.55"/>
<circle cx="103.63" cy="170.75" r="1.3" fill="#f01818" fill-opacity="0.25" stroke="#f01818" stroke-opacity="0.42" stroke-width="0.55"/>
<circle cx="97.21" cy="178.57" r="1.3" fill="#f01818" fill-opacity="0.25" stroke="#f01818" stroke-opacity="0.42" stroke-width="0.55"/>
<circle cx="109.94" cy="165.17" r="1.3" fill="#f01818" fill-opacity="0.25" stroke="#f01818" stroke-opacity="0.42" stroke-width="0.55"/>
<circle cx="113.25" cy="163.75" r="1.3" fill="#f01818" fill-opacity="0.25" stroke="#f01818" stroke-opacity="0.42" stroke-width="0.55"/>
<circle cx="100.23" cy="174.88" r="1.3" fill="#f01818" fill-opacity="0.25" stroke="#f01818" stroke-opacity="0.42" stroke-width="0.55"/>
<circle cx="104.11" cy="171.17" r="1.3" fill="#f01818" fill-opacity="0.25" stroke="#f01818" stroke-opacity="0.42" stroke-width="0.55"/>
<circle cx="100.35" cy="172.07" r="1.3" fill="#f01818" fill-opacity="0.25" stroke="#f01818" stroke-opacity="0.42" stroke-width="0.55"/>
<circle cx="103.02" cy="170.88" r="1.3" fill="#f01818" fill-opacity="0.25" stroke="#f01818" stroke-opacity="0.42" stroke-width="0.55"/>
<circle cx="104.88" cy="167.74" r="1.3" fill="#f01818" fill-opacity="0.25" stroke="#f01818" stroke-opacity="0.42" stroke-width="0.55"/>
<circle cx="102.57" cy="171.87" r="1.3" fill="#f01818" fill-opacity="0.25" stroke="#f01818" stroke-opacity="0.42" stroke-width="0.55"/>
<circle cx="102.66" cy="174.37" r="1.3" fill="#f01818" fill-opacity="0.25" stroke="#f01818" stroke-opacity="0.42" stroke-width="0.55"/>
<circle cx="107.59" cy="167.04" r="1.3" fill="#f01818" fill-opacity="0.25" stroke="#f01818" stroke-opacity="0.42" stroke-width="0.55"/>
<circle cx="110.06" cy="164.34" r="1.3" fill="#f01818" fill-opacity="0.25" stroke="#f01818" stroke-opacity="0.42" stroke-width="0.55"/>
<circle cx="119.98" cy="161.62" r="1.3" fill="#f01818" fill-opacity="0.25" stroke="#f01818" stroke-opacity="0.42" stroke-width="0.55"/>
<circle cx="117.11" cy="165.09" r="1.3" fill="#f01818" fill-opacity="0.25" stroke="#f01818" stroke-opacity="0.42" stroke-width="0.55"/>
<circle cx="110.90" cy="171.80" r="1.3" fill="#f01818" fill-opacity="0.25" stroke="#f01818" stroke-opacity="0.42" stroke-width="0.55"/>
<circle cx="107.55" cy="176.85" r="1.3" fill="#f01818" fill-opacity="0.25" stroke="#f01818" stroke-opacity="0.42" stroke-width="0.55"/>
<circle cx="111.91" cy="169.67" r="1.3" fill="#f01818" fill-opacity="0.25" stroke="#f01818" stroke-opacity="0.42" stroke-width="0.55"/>
<circle cx="109.48" cy="171.64" r="1.3" fill="#f01818" fill-opacity="0.25" stroke="#f01818" stroke-opacity="0.42" stroke-width="0.55"/>
<circle cx="112.70" cy="169.34" r="1.3" fill="#f01818" fill-opacity="0.25" stroke="#f01818" stroke-opacity="0.42" stroke-width="0.55"/>
<circle cx="121.18" cy="161.85" r="1.3" fill="#f01818" fill-opacity="0.25" stroke="#f01818" stroke-opacity="0.42" stroke-width="0.55"/>
<circle cx="118.19" cy="166.17" r="1.3" fill="#f01818" fill-opacity="0.25" stroke="#f01818" stroke-opacity="0.42" stroke-width="0.55"/>
<circle cx="118.48" cy="166.36" r="1.3" fill="#f01818" fill-opacity="0.25" stroke="#f01818" stroke-opacity="0.42" stroke-width="0.55"/>
<circle cx="124.36" cy="160.81" r="1.3" fill="#f01818" fill-opacity="0.25" stroke="#f01818" stroke-opacity="0.42" stroke-width="0.55"/>
<circle cx="120.09" cy="165.09" r="1.3" fill="#f01818" fill-opacity="0.25" stroke="#f01818" stroke-opacity="0.42" stroke-width="0.55"/>
<circle cx="107.86" cy="173.10" r="1.3" fill="#f01818" fill-opacity="0.25" stroke="#f01818" stroke-opacity="0.42" stroke-width="0.55"/>
<circle cx="124.42" cy="158.36" r="1.3" fill="#f01818" fill-opacity="0.25" stroke="#f01818" stroke-opacity="0.42" stroke-width="0.55"/>
<circle cx="125.93" cy="158.03" r="1.3" fill="#f01818" fill-opacity="0.25" stroke="#f01818" stroke-opacity="0.42" stroke-width="0.55"/>
<circle cx="109.66" cy="175.88" r="1.3" fill="#f01818" fill-opacity="0.25" stroke="#f01818" stroke-opacity="0.42" stroke-width="0.55"/>
<circle cx="107.40" cy="174.99" r="1.3" fill="#f01818" fill-opacity="0.25" stroke="#f01818" stroke-opacity="0.42" stroke-width="0.55"/>
<circle cx="120.07" cy="162.58" r="1.3" fill="#f01818" fill-opacity="0.25" stroke="#f01818" stroke-opacity="0.42" stroke-width="0.55"/>
<circle cx="112.14" cy="169.49" r="1.3" fill="#f01818" fill-opacity="0.25" stroke="#f01818" stroke-opacity="0.42" stroke-width="0.55"/>
<circle cx="114.73" cy="168.42" r="1.3" fill="#f01818" fill-opacity="0.25" stroke="#f01818" stroke-opacity="0.42" stroke-width="0.55"/>
<circle cx="123.32" cy="161.84" r="1.3" fill="#f01818" fill-opacity="0.25" stroke="#f01818" stroke-opacity="0.42" stroke-width="0.55"/>
<circle cx="119.41" cy="164.31" r="1.3" fill="#f01818" fill-opacity="0.25" stroke="#f01818" stroke-opacity="0.42" stroke-width="0.55"/>
<circle cx="113.02" cy="170.62" r="1.3" fill="#f01818" fill-opacity="0.25" stroke="#f01818" stroke-opacity="0.42" stroke-width="0.55"/>
<circle cx="119.41" cy="163.03" r="1.3" fill="#f01818" fill-opacity="0.25" stroke="#f01818" stroke-opacity="0.42" stroke-width="0.55"/>
<circle cx="114.95" cy="167.80" r="1.3" fill="#f01818" fill-opacity="0.25" stroke="#f01818" stroke-opacity="0.42" stroke-width="0.55"/>
<circle cx="112.45" cy="169.43" r="1.3" fill="#f01818" fill-opacity="0.25" stroke="#f01818" stroke-opacity="0.42" stroke-width="0.55"/>
<circle cx="124.14" cy="159.44" r="1.3" fill="#f01818" fill-opacity="0.25" stroke="#f01818" stroke-opacity="0.42" stroke-width="0.55"/>
<circle cx="122.01" cy="162.46" r="1.3" fill="#f01818" fill-opacity="0.25" stroke="#f01818" stroke-opacity="0.42" stroke-width="0.55"/>
<circle cx="121.06" cy="161.89" r="1.3" fill="#f01818" fill-opacity="0.25" stroke="#f01818" stroke-opacity="0.42" stroke-width="0.55"/>
<circle cx="117.22" cy="166.27" r="1.3" fill="#f01818" fill-opacity="0.25" stroke="#f01818" stroke-opacity="0.42" stroke-width="0.55"/>
<circle cx="120.08" cy="163.64" r="1.3" fill="#f01818" fill-opacity="0.25" stroke="#f01818" stroke-opacity="0.42" stroke-width="0.55"/>
<circle cx="114.00" cy="168.54" r="1.3" fill="#f01818" fill-opacity="0.25" stroke="#f01818" stroke-opacity="0.42" stroke-width="0.55"/>
<circle cx="116.21" cy="167.21" r="1.3" fill="#f01818" fill-opacity="0.25" stroke="#f01818" stroke-opacity="0.42" stroke-width="0.55"/>
<circle cx="124.08" cy="159.19" r="1.3" fill="#f01818" fill-opacity="0.25" stroke="#f01818" stroke-opacity="0.42" stroke-width="0.55"/>
<circle cx="122.99" cy="164.19" r="1.3" fill="#f01818" fill-opacity="0.25" stroke="#f01818" stroke-opacity="0.42" stroke-width="0.55"/>
<circle cx="123.94" cy="160.06" r="1.3" fill="#f01818" fill-opacity="0.25" stroke="#f01818" stroke-opacity="0.42" stroke-width="0.55"/>
<circle cx="120.61" cy="163.29" r="1.3" fill="#f01818" fill-opacity="0.25" stroke="#f01818" stroke-opacity="0.42" stroke-width="0.55"/>
<circle cx="112.19" cy="172.20" r="1.3" fill="#f01818" fill-opacity="0.25" stroke="#f01818" stroke-opacity="0.42" stroke-width="0.55"/>
<circle cx="119.08" cy="163.86" r="1.3" fill="#f01818" fill-opacity="0.25" stroke="#f01818" stroke-opacity="0.42" stroke-width="0.55"/>
<circle cx="122.70" cy="161.82" r="1.3" fill="#f01818" fill-opacity="0.25" stroke="#f01818" stroke-opacity="0.42" stroke-width="0.55"/>
<circle cx="107.65" cy="175.16" r="1.3" fill="#f01818" fill-opacity="0.25" stroke="#f01818" stroke-opacity="0.42" stroke-width="0.55"/>
<circle cx="120.87" cy="162.33" r="1.3" fill="#f01818" fill-opacity="0.25" stroke="#f01818" stroke-opacity="0.42" stroke-width="0.55"/>
<circle cx="123.94" cy="160.50" r="1.3" fill="#f01818" fill-opacity="0.25" stroke="#f01818" stroke-opacity="0.42" stroke-width="0.55"/>
<circle cx="121.65" cy="160.36" r="1.3" fill="#f01818" fill-opacity="0.25" stroke="#f01818" stroke-opacity="0.42" stroke-width="0.55"/>
<circle cx="108.59" cy="175.19" r="1.3" fill="#f01818" fill-opacity="0.25" stroke="#f01818" stroke-opacity="0.42" stroke-width="0.55"/>
<circle cx="110.58" cy="174.30" r="1.3" fill="#f01818" fill-opacity="0.25" stroke="#f01818" stroke-opacity="0.42" stroke-width="0.55"/>
<circle cx="116.93" cy="166.11" r="1.3" fill="#f01818" fill-opacity="0.25" stroke="#f01818" stroke-opacity="0.42" stroke-width="0.55"/>
<circle cx="124.15" cy="159.13" r="1.3" fill="#f01818" fill-opacity="0.25" stroke="#f01818" stroke-opacity="0.42" stroke-width="0.55"/>
<circle cx="126.54" cy="157.29" r="1.3" fill="#f01818" fill-opacity="0.25" stroke="#f01818" stroke-opacity="0.42" stroke-width="0.55"/>
<circle cx="117.68" cy="164.09" r="1.3" fill="#f01818" fill-opacity="0.25" stroke="#f01818" stroke-opacity="0.42" stroke-width="0.55"/>
<circle cx="121.52" cy="163.57" r="1.3" fill="#f01818" fill-opacity="0.25" stroke="#f01818" stroke-opacity="0.42" stroke-width="0.55"/>
<circle cx="116.00" cy="168.08" r="1.3" fill="#f01818" fill-opacity="0.25" stroke="#f01818" stroke-opacity="0.42" stroke-width="0.55"/>
<circle cx="121.78" cy="160.86" r="1.3" fill="#f01818" fill-opacity="0.25" stroke="#f01818" stroke-opacity="0.42" stroke-width="0.55"/>
<circle cx="114.39" cy="170.16" r="1.3" fill="#f01818" fill-opacity="0.25" stroke="#f01818" stroke-opacity="0.42" stroke-width="0.55"/>
<circle cx="119.96" cy="161.37" r="1.3" fill="#f01818" fill-opacity="0.25" stroke="#f01818" stroke-opacity="0.42" stroke-width="0.55"/>
<circle cx="110.26" cy="170.19" r="1.3" fill="#f01818" fill-opacity="0.25" stroke="#f01818" stroke-opacity="0.42" stroke-width="0.55"/>
<circle cx="125.69" cy="158.42" r="1.3" fill="#f01818" fill-opacity="0.25" stroke="#f01818" stroke-opacity="0.42" stroke-width="0.55"/>
<circle cx="118.72" cy="165.99" r="1.3" fill="#f01818" fill-opacity="0.25" stroke="#f01818" stroke-opacity="0.42" stroke-width="0.55"/>
<circle cx="125.48" cy="159.36" r="1.3" fill="#f01818" fill-opacity="0.25" stroke="#f01818" stroke-opacity="0.42" stroke-width="0.55"/>
<circle cx="117.96" cy="164.84" r="1.3" fill="#f01818" fill-opacity="0.25" stroke="#f01818" stroke-opacity="0.42" stroke-width="0.55"/>
<circle cx="121.90" cy="162.12" r="1.3" fill="#f01818" fill-opacity="0.25" stroke="#f01818" stroke-opacity="0.42" stroke-width="0.55"/>
<circle cx="125.57" cy="156.99" r="1.3" fill="#f01818" fill-opacity="0.25" stroke="#f01818" stroke-opacity="0.42" stroke-width="0.55"/>
<circle cx="110.59" cy="170.52" r="1.3" fill="#f01818" fill-opacity="0.25" stroke="#f01818" stroke-opacity="0.42" stroke-width="0.55"/>
<circle cx="123.00" cy="160.47" r="1.3" fill="#f01818" fill-opacity="0.25" stroke="#f01818" stroke-opacity="0.42" stroke-width="0.55"/>
<circle cx="121.13" cy="164.77" r="1.3" fill="#f01818" fill-opacity="0.25" stroke="#f01818" stroke-opacity="0.42" stroke-width="0.55"/>
<circle cx="52.11" cy="239.49" r="1.1" fill="#f01818" fill-opacity="0.12" stroke="#f01818" stroke-opacity="0.3" stroke-width="0.5"/>
<circle cx="49.04" cy="234.08" r="1.1" fill="#f01818" fill-opacity="0.12" stroke="#f01818" stroke-opacity="0.3" stroke-width="0.5"/>
<circle cx="51.64" cy="239.86" r="1.1" fill="#f01818" fill-opacity="0.12" stroke="#f01818" stroke-opacity="0.3" stroke-width="0.5"/>
<circle cx="52.11" cy="241.24" r="1.1" fill="#f01818" fill-opacity="0.12" stroke="#f01818" stroke-opacity="0.3" stroke-width="0.5"/>
<circle cx="52.05" cy="240.28" r="1.1" fill="#f01818" fill-opacity="0.12" stroke="#f01818" stroke-opacity="0.3" stroke-width="0.5"/>
<circle cx="50.22" cy="233.95" r="1.1" fill="#f01818" fill-opacity="0.12" stroke="#f01818" stroke-opacity="0.3" stroke-width="0.5"/>
<circle cx="49.63" cy="239.07" r="1.1" fill="#f01818" fill-opacity="0.12" stroke="#f01818" stroke-opacity="0.3" stroke-width="0.5"/>
<circle cx="49.25" cy="233.01" r="1.1" fill="#f01818" fill-opacity="0.12" stroke="#f01818" stroke-opacity="0.3" stroke-width="0.5"/>
<circle cx="50.49" cy="233.14" r="1.1" fill="#f01818" fill-opacity="0.12" stroke="#f01818" stroke-opacity="0.3" stroke-width="0.5"/>
<circle cx="49.44" cy="234.42" r="1.1" fill="#f01818" fill-opacity="0.12" stroke="#f01818" stroke-opacity="0.3" stroke-width="0.5"/>
<circle cx="49.36" cy="238.54" r="1.1" fill="#f01818" fill-opacity="0.12" stroke="#f01818" stroke-opacity="0.3" stroke-width="0.5"/>
<circle cx="49.42" cy="241.68" r="1.1" fill="#f01818" fill-opacity="0.12" stroke="#f01818" stroke-opacity="0.3" stroke-width="0.5"/>
<circle cx="52.36" cy="231.03" r="1.1" fill="#f01818" fill-opacity="0.12" stroke="#f01818" stroke-opacity="0.3" stroke-width="0.5"/>
<circle cx="52.01" cy="241.79" r="1.1" fill="#f01818" fill-opacity="0.12" stroke="#f01818" stroke-opacity="0.3" stroke-width="0.5"/>
<circle cx="53.57" cy="238.44" r="1.1" fill="#f01818" fill-opacity="0.12" stroke="#f01818" stroke-opacity="0.3" stroke-width="0.5"/>
<circle cx="50.71" cy="237.95" r="1.1" fill="#f01818" fill-opacity="0.12" stroke="#f01818" stroke-opacity="0.3" stroke-width="0.5"/>
<circle cx="52.95" cy="235.87" r="1.1" fill="#f01818" fill-opacity="0.12" stroke="#f01818" stroke-opacity="0.3" stroke-width="0.5"/>
<circle cx="50.58" cy="235.86" r="1.1" fill="#f01818" fill-opacity="0.12" stroke="#f01818" stroke-opacity="0.3" stroke-width="0.5"/>
<circle cx="55.10" cy="232.97" r="1.1" fill="#f01818" fill-opacity="0.12" stroke="#f01818" stroke-opacity="0.3" stroke-width="0.5"/>
<circle cx="50.19" cy="240.92" r="1.1" fill="#f01818" fill-opacity="0.12" stroke="#f01818" stroke-opacity="0.3" stroke-width="0.5"/>
<circle cx="50.75" cy="234.19" r="1.1" fill="#f01818" fill-opacity="0.12" stroke="#f01818" stroke-opacity="0.3" stroke-width="0.5"/>
<circle cx="53.15" cy="235.41" r="1.1" fill="#f01818" fill-opacity="0.12" stroke="#f01818" stroke-opacity="0.3" stroke-width="0.5"/>
<circle cx="53.83" cy="238.82" r="1.1" fill="#f01818" fill-opacity="0.12" stroke="#f01818" stroke-opacity="0.3" stroke-width="0.5"/>
<circle cx="50.65" cy="236.04" r="1.1" fill="#f01818" fill-opacity="0.12" stroke="#f01818" stroke-opacity="0.3" stroke-width="0.5"/>
<circle cx="51.70" cy="237.92" r="1.1" fill="#f01818" fill-opacity="0.12" stroke="#f01818" stroke-opacity="0.3" stroke-width="0.5"/>
<circle cx="51.74" cy="236.24" r="1.1" fill="#f01818" fill-opacity="0.12" stroke="#f01818" stroke-opacity="0.3" stroke-width="0.5"/>
<circle cx="49.65" cy="241.11" r="1.1" fill="#f01818" fill-opacity="0.12" stroke="#f01818" stroke-opacity="0.3" stroke-width="0.5"/>
<circle cx="48.98" cy="239.10" r="1.1" fill="#f01818" fill-opacity="0.12" stroke="#f01818" stroke-opacity="0.3" stroke-width="0.5"/>
<circle cx="55.47" cy="235.20" r="1.1" fill="#f01818" fill-opacity="0.12" stroke="#f01818" stroke-opacity="0.3" stroke-width="0.5"/>
<circle cx="52.76" cy="240.55" r="1.1" fill="#f01818" fill-opacity="0.12" stroke="#f01818" stroke-opacity="0.3" stroke-width="0.5"/>
<circle cx="50.41" cy="237.31" r="1.1" fill="#f01818" fill-opacity="0.12" stroke="#f01818" stroke-opacity="0.3" stroke-width="0.5"/>
<circle cx="49.85" cy="236.61" r="1.1" fill="#f01818" fill-opacity="0.12" stroke="#f01818" stroke-opacity="0.3" stroke-width="0.5"/>
<circle cx="50.66" cy="236.60" r="1.1" fill="#f01818" fill-opacity="0.12" stroke="#f01818" stroke-opacity="0.3" stroke-width="0.5"/>
<circle cx="51.57" cy="234.09" r="1.1" fill="#f01818" fill-opacity="0.12" stroke="#f01818" stroke-opacity="0.3" stroke-width="0.5"/>
<circle cx="51.40" cy="237.95" r="1.1" fill="#f01818" fill-opacity="0.12" stroke="#f01818" stroke-opacity="0.3" stroke-width="0.5"/>
<circle cx="50.29" cy="239.69" r="1.1" fill="#f01818" fill-opacity="0.12" stroke="#f01818" stroke-opacity="0.3" stroke-width="0.5"/>
<circle cx="48.92" cy="235.98" r="1.1" fill="#f01818" fill-opacity="0.12" stroke="#f01818" stroke-opacity="0.3" stroke-width="0.5"/>
<circle cx="49.69" cy="236.03" r="1.1" fill="#f01818" fill-opacity="0.12" stroke="#f01818" stroke-opacity="0.3" stroke-width="0.5"/>
<circle cx="53.77" cy="234.20" r="1.1" fill="#f01818" fill-opacity="0.12" stroke="#f01818" stroke-opacity="0.3" stroke-width="0.5"/>
<circle cx="51.35" cy="236.20" r="1.1" fill="#f01818" fill-opacity="0.12" stroke="#f01818" stroke-opacity="0.3" stroke-width="0.5"/>
<circle cx="49.34" cy="240.35" r="1.1" fill="#f01818" fill-opacity="0.12" stroke="#f01818" stroke-opacity="0.3" stroke-width="0.5"/>
<circle cx="50.79" cy="242.96" r="1.1" fill="#f01818" fill-opacity="0.12" stroke="#f01818" stroke-opacity="0.3" stroke-width="0.5"/>
<circle cx="53.11" cy="237.06" r="1.1" fill="#f01818" fill-opacity="0.12" stroke="#f01818" stroke-opacity="0.3" stroke-width="0.5"/>
<circle cx="54.32" cy="241.17" r="1.1" fill="#f01818" fill-opacity="0.12" stroke="#f01818" stroke-opacity="0.3" stroke-width="0.5"/>
<circle cx="50.21" cy="238.57" r="1.1" fill="#f01818" fill-opacity="0.12" stroke="#f01818" stroke-opacity="0.3" stroke-width="0.5"/>
<circle cx="65.40" cy="231.10" r="1.1" fill="#f01818" fill-opacity="0.12" stroke="#f01818" stroke-opacity="0.3" stroke-width="0.5"/>
<circle cx="69.10" cy="233.60" r="1.1" fill="#f01818" fill-opacity="0.12" stroke="#f01818" stroke-opacity="0.3" stroke-width="0.5"/>
<circle cx="68.50" cy="237.30" r="1.1" fill="#f01818" fill-opacity="0.12" stroke="#f01818" stroke-opacity="0.3" stroke-width="0.5"/>
<circle cx="61.10" cy="237.90" r="1.1" fill="#f01818" fill-opacity="0.12" stroke="#f01818" stroke-opacity="0.3" stroke-width="0.5"/>
<circle cx="61.10" cy="239.80" r="1.1" fill="#f01818" fill-opacity="0.12" stroke="#f01818" stroke-opacity="0.3" stroke-width="0.5"/>
<circle cx="56.10" cy="230.50" r="1.1" fill="#f01818" fill-opacity="0.12" stroke="#f01818" stroke-opacity="0.3" stroke-width="0.5"/>
<circle cx="58.60" cy="233.60" r="1.1" fill="#f01818" fill-opacity="0.12" stroke="#f01818" stroke-opacity="0.3" stroke-width="0.5"/>
<circle cx="63.00" cy="235.00" r="1.1" fill="#f01818" fill-opacity="0.12" stroke="#f01818" stroke-opacity="0.3" stroke-width="0.5"/>
<circle cx="59.50" cy="236.50" r="1.1" fill="#f01818" fill-opacity="0.12" stroke="#f01818" stroke-opacity="0.3" stroke-width="0.5"/>
<line x1="73.00" y1="152.50" x2="73.00" y2="246.30" stroke="#555" stroke-width="0.8" stroke-dasharray="2.0,1.3"/>
<line x1="48.40" y1="152.50" x2="48.40" y2="246.80" stroke="#333" stroke-width="1.1"/>
<line x1="47.90" y1="246.30" x2="130.80" y2="246.30" stroke="#333" stroke-width="1.1"/>
<line x1="45.20" y1="175.72" x2="48.40" y2="175.72" stroke="#333" stroke-width="0.9"/>
<text x="43.60" y="179.07" font-size="9.92" text-anchor="end" textLength="12.02" lengthAdjust="spacingAndGlyphs" stroke="#000" style="stroke-width:0.16px">25</text>
<line x1="45.20" y1="199.60" x2="48.40" y2="199.60" stroke="#333" stroke-width="0.9"/>
<text x="43.60" y="202.95" font-size="9.92" text-anchor="end" textLength="6.01" lengthAdjust="spacingAndGlyphs" stroke="#000" style="stroke-width:0.16px">0</text>
<line x1="45.20" y1="223.47" x2="48.40" y2="223.47" stroke="#333" stroke-width="0.9"/>
<text x="43.60" y="226.82" font-size="9.92" text-anchor="end" textLength="19.94" lengthAdjust="spacingAndGlyphs" stroke="#000" style="stroke-width:0.16px">−25</text>
<line x1="48.40" y1="246.30" x2="48.40" y2="249.50" stroke="#333" stroke-width="0.9"/>
<text x="48.40" y="258.50" font-size="9.92" text-anchor="middle" textLength="6.01" lengthAdjust="spacingAndGlyphs" stroke="#000" style="stroke-width:0.16px">0</text>
<line x1="73.00" y1="246.30" x2="73.00" y2="249.50" stroke="#333" stroke-width="0.9"/>
<text x="73.00" y="258.50" font-size="9.92" text-anchor="middle" textLength="6.01" lengthAdjust="spacingAndGlyphs" stroke="#000" style="stroke-width:0.16px">3</text>
<line x1="89.40" y1="246.30" x2="89.40" y2="249.50" stroke="#333" stroke-width="0.9"/>
<text x="89.40" y="258.50" font-size="9.92" text-anchor="middle" textLength="6.01" lengthAdjust="spacingAndGlyphs" stroke="#000" style="stroke-width:0.16px">5</text>
<line x1="130.40" y1="246.30" x2="130.40" y2="249.50" stroke="#333" stroke-width="0.9"/>
<text x="130.40" y="258.50" font-size="9.92" text-anchor="middle" textLength="12.02" lengthAdjust="spacingAndGlyphs" stroke="#000" style="stroke-width:0.16px">10</text>
<text x="56.10" y="268.60" font-size="7.35" stroke="#000">Δ</text>
<text x="60.60" y="268.60" font-size="7.35" textLength="4.79" lengthAdjust="spacingAndGlyphs" stroke="#000" font-style="italic">V</text>
<text x="66.00" y="269.80" font-size="5.57" textLength="5.16" lengthAdjust="spacingAndGlyphs" stroke="#000" font-style="italic">m</text>
<line x1="55.90" y1="272.10" x2="71.80" y2="272.10" stroke="#000" stroke-width="0.75"/>
<text x="59.60" y="278.70" font-size="7.35" stroke="#000">Δ</text>
<text x="64.10" y="278.70" font-size="7.35" textLength="2.74" lengthAdjust="spacingAndGlyphs" stroke="#000" font-style="italic">t</text>
<text x="77.1" y="274.6" font-size="10.9" stroke="#000" textLength="45.3" lengthAdjust="spacingAndGlyphs">(<tspan font-style="italic">mV/ms</tspan>)</text>
<g transform="translate(18.60 199.40) rotate(-90)">
<text x="-34.98" y="0.00" font-size="11.29" textLength="25.64" lengthAdjust="spacingAndGlyphs" stroke="#000">Max </text>
<text x="-9.34" y="0.00" font-size="11.29" textLength="7.35" lengthAdjust="spacingAndGlyphs" stroke="#000" font-style="italic">V</text>
<text x="-1.98" y="1.40" font-size="7.90" textLength="7.33" lengthAdjust="spacingAndGlyphs" stroke="#000" font-style="italic">m</text>
<text x="5.35" y="0.00" font-size="11.29" textLength="29.63" lengthAdjust="spacingAndGlyphs" stroke="#000"> (mV)</text>
</g>
<text x="7.20" y="155.10" font-size="13.44" textLength="8.94" lengthAdjust="spacingAndGlyphs" stroke="#000">C</text>
<line x1="201.30" y1="173.90" x2="410.20" y2="173.90" stroke="#aaa" stroke-width="1.7"/>
<polyline points="205.40,175.98 225.50,174.59 245.60,173.55 265.70,172.17 285.80,195.35 305.90,201.23 326.00,188.78 346.10,184.97 366.20,180.82 386.30,178.57 406.40,177.53" fill="none" stroke="#ee1c1c" stroke-width="1.0" stroke-linejoin="round"/>
<line x1="205.40" y1="174.94" x2="205.40" y2="177.01" stroke="#ee1c1c" stroke-width="0.9"/>
<circle cx="205.40" cy="175.98" r="1.5" fill="#ee1c1c"/>
<line x1="225.50" y1="173.90" x2="225.50" y2="175.28" stroke="#ee1c1c" stroke-width="0.9"/>
<circle cx="225.50" cy="174.59" r="1.5" fill="#ee1c1c"/>
<line x1="245.60" y1="172.86" x2="245.60" y2="174.25" stroke="#ee1c1c" stroke-width="0.9"/>
<circle cx="245.60" cy="173.55" r="1.5" fill="#ee1c1c"/>
<line x1="265.70" y1="171.48" x2="265.70" y2="172.86" stroke="#ee1c1c" stroke-width="0.9"/>
<circle cx="265.70" cy="172.17" r="1.5" fill="#ee1c1c"/>
<line x1="285.80" y1="187.05" x2="285.80" y2="203.66" stroke="#ee1c1c" stroke-width="0.9"/>
<circle cx="285.80" cy="195.35" r="1.5" fill="#ee1c1c"/>
<line x1="305.90" y1="199.50" x2="305.90" y2="202.96" stroke="#ee1c1c" stroke-width="0.9"/>
<circle cx="305.90" cy="201.23" r="1.5" fill="#ee1c1c"/>
<line x1="326.00" y1="187.74" x2="326.00" y2="189.82" stroke="#ee1c1c" stroke-width="0.9"/>
<circle cx="326.00" cy="188.78" r="1.5" fill="#ee1c1c"/>
<line x1="346.10" y1="184.11" x2="346.10" y2="185.84" stroke="#ee1c1c" stroke-width="0.9"/>
<circle cx="346.10" cy="184.97" r="1.5" fill="#ee1c1c"/>
<line x1="366.20" y1="180.13" x2="366.20" y2="181.51" stroke="#ee1c1c" stroke-width="0.9"/>
<circle cx="366.20" cy="180.82" r="1.5" fill="#ee1c1c"/>
<line x1="386.30" y1="177.88" x2="386.30" y2="179.26" stroke="#ee1c1c" stroke-width="0.9"/>
<circle cx="386.30" cy="178.57" r="1.5" fill="#ee1c1c"/>
<line x1="406.40" y1="176.67" x2="406.40" y2="178.40" stroke="#ee1c1c" stroke-width="0.9"/>
<circle cx="406.40" cy="177.53" r="1.5" fill="#ee1c1c"/>
<polyline points="205.40,176.84 225.50,174.94 265.70,172.52 285.80,206.08 305.90,202.27 326.00,192.41 346.10,188.09 366.20,183.42 386.30,183.76 406.40,179.61" fill="none" stroke="#ee1c1c" stroke-width="1.0" stroke-linejoin="round" stroke-dasharray="2.6,1.4"/>
<line x1="205.40" y1="175.46" x2="205.40" y2="178.22" stroke="#ee1c1c" stroke-width="0.9"/>
<circle cx="205.40" cy="176.84" r="1.5" fill="#ee1c1c"/>
<line x1="225.50" y1="174.07" x2="225.50" y2="175.80" stroke="#ee1c1c" stroke-width="0.9"/>
<circle cx="225.50" cy="174.94" r="1.5" fill="#ee1c1c"/>
<line x1="245.60" y1="172.86" x2="245.60" y2="174.59" stroke="#ee1c1c" stroke-width="0.9"/>
<circle cx="245.60" cy="173.73" r="1.5" fill="#ee1c1c"/>
<line x1="265.70" y1="171.65" x2="265.70" y2="173.38" stroke="#ee1c1c" stroke-width="0.9"/>
<circle cx="265.70" cy="172.52" r="1.5" fill="#ee1c1c"/>
<line x1="285.80" y1="204.00" x2="285.80" y2="208.15" stroke="#ee1c1c" stroke-width="0.9"/>
<circle cx="285.80" cy="206.08" r="1.5" fill="#ee1c1c"/>
<line x1="305.90" y1="200.20" x2="305.90" y2="204.35" stroke="#ee1c1c" stroke-width="0.9"/>
<circle cx="305.90" cy="202.27" r="1.5" fill="#ee1c1c"/>
<line x1="326.00" y1="191.37" x2="326.00" y2="193.45" stroke="#ee1c1c" stroke-width="0.9"/>
<circle cx="326.00" cy="192.41" r="1.5" fill="#ee1c1c"/>
<line x1="346.10" y1="187.22" x2="346.10" y2="188.95" stroke="#ee1c1c" stroke-width="0.9"/>
<circle cx="346.10" cy="188.09" r="1.5" fill="#ee1c1c"/>
<line x1="366.20" y1="182.55" x2="366.20" y2="184.28" stroke="#ee1c1c" stroke-width="0.9"/>
<circle cx="366.20" cy="183.42" r="1.5" fill="#ee1c1c"/>
<line x1="386.30" y1="182.90" x2="386.30" y2="184.63" stroke="#ee1c1c" stroke-width="0.9"/>
<circle cx="386.30" cy="183.76" r="1.5" fill="#ee1c1c"/>
<line x1="406.40" y1="178.57" x2="406.40" y2="180.65" stroke="#ee1c1c" stroke-width="0.9"/>
<circle cx="406.40" cy="179.61" r="1.5" fill="#ee1c1c"/>
<polyline points="205.40,189.47 225.50,184.63 245.60,180.65 265.70,175.80 285.80,171.82 305.90,167.67 326.00,163.87 366.20,161.44 386.30,162.83 406.40,159.02" fill="none" stroke="#999" stroke-width="1.6" stroke-linejoin="round"/>
<polyline points="205.40,189.47 225.50,184.63 245.60,180.65 265.70,175.80 285.80,171.82 305.90,167.67 326.00,163.87 366.20,161.44 386.30,162.83 406.40,159.02" fill="none" stroke="#000" stroke-width="1.1" stroke-linejoin="round" stroke-dasharray="3.4,0.9"/>
<path d="M202.20,186.27L208.60,192.67M202.20,192.67L208.60,186.27" stroke="#000" stroke-width="1.1"/>
<path d="M222.30,181.43L228.70,187.83M222.30,187.83L228.70,181.43" stroke="#000" stroke-width="1.1"/>
<path d="M242.40,177.45L248.80,183.85M242.40,183.85L248.80,177.45" stroke="#000" stroke-width="1.1"/>
<path d="M262.50,172.60L268.90,179.00M262.50,179.00L268.90,172.60" stroke="#000" stroke-width="1.1"/>
<path d="M282.60,168.62L289.00,175.02M282.60,175.02L289.00,168.62" stroke="#000" stroke-width="1.1"/>
<path d="M302.70,164.47L309.10,170.87M302.70,170.87L309.10,164.47" stroke="#000" stroke-width="1.1"/>
<path d="M322.80,160.67L329.20,167.07M322.80,167.07L329.20,160.67" stroke="#000" stroke-width="1.1"/>
<path d="M363.00,158.24L369.40,164.64M363.00,164.64L369.40,158.24" stroke="#000" stroke-width="1.1"/>
<path d="M383.10,159.63L389.50,166.03M383.10,166.03L389.50,159.63" stroke="#000" stroke-width="1.1"/>
<path d="M403.20,155.82L409.60,162.22M403.20,162.22L409.60,155.82" stroke="#000" stroke-width="1.1"/>
<line x1="210.10" y1="213.60" x2="230.60" y2="213.60" stroke="#ee1c1c" stroke-width="1.0" stroke-dasharray="2.6,1.4"/>
<line x1="220.30" y1="208.60" x2="220.30" y2="218.60" stroke="#ee1c1c" stroke-width="0.9"/>
<circle cx="220.3" cy="213.6" r="1.5" fill="#ee1c1c"/>
<line x1="210.10" y1="228.10" x2="230.60" y2="228.10" stroke="#ee1c1c" stroke-width="2.2" stroke-opacity="0.55"/>
<line x1="220.30" y1="223.10" x2="220.30" y2="233.10" stroke="#ee1c1c" stroke-width="0.9" stroke-opacity="0.55"/>
<circle cx="220.3" cy="228.1" r="1.5" fill="#ee1c1c"/>
<line x1="324.50" y1="213.60" x2="344.90" y2="213.60" stroke="#000" stroke-width="1.0" stroke-dasharray="2.6,1.4"/>
<line x1="334.80" y1="208.60" x2="334.80" y2="218.60" stroke="#999" stroke-width="1.0"/>
<line x1="324.50" y1="228.10" x2="344.90" y2="228.10" stroke="#999" stroke-width="2.0"/>
<line x1="334.80" y1="223.10" x2="334.80" y2="233.10" stroke="#999" stroke-width="1.0"/>
<path d="M331.80,210.60L337.80,216.60M331.80,216.60L337.80,210.60" stroke="#000" stroke-width="1.1"/>
<path d="M331.80,225.10L337.80,231.10M331.80,231.10L337.80,225.10" stroke="#000" stroke-width="1.1"/>
<text x="237.70" y="216.90" font-size="10.40" textLength="66.73" lengthAdjust="spacingAndGlyphs" stroke="#000">-80 mV, Light</text>
<text x="237.70" y="231.40" font-size="10.40" textLength="65.52" lengthAdjust="spacingAndGlyphs" stroke="#000">-80 mV, Dark</text>
<text x="352.60" y="216.90" font-size="10.40" textLength="66.73" lengthAdjust="spacingAndGlyphs" stroke="#000">-20 mV, Light</text>
<text x="352.60" y="231.40" font-size="10.40" textLength="65.52" lengthAdjust="spacingAndGlyphs" stroke="#000">-20 mV, Dark</text>
<line x1="201.30" y1="156.30" x2="201.30" y2="242.90" stroke="#333" stroke-width="1.1"/>
<line x1="198.10" y1="173.90" x2="201.30" y2="173.90" stroke="#333" stroke-width="0.9"/>
<text x="196.50" y="177.25" font-size="9.92" text-anchor="end" textLength="6.01" lengthAdjust="spacingAndGlyphs" stroke="#000" style="stroke-width:0.16px">0</text>
<line x1="198.10" y1="208.50" x2="201.30" y2="208.50" stroke="#333" stroke-width="0.9"/>
<text x="196.50" y="211.85" font-size="9.92" text-anchor="end" textLength="13.93" lengthAdjust="spacingAndGlyphs" stroke="#000" style="stroke-width:0.16px">−2</text>
<line x1="198.10" y1="243.10" x2="201.30" y2="243.10" stroke="#333" stroke-width="0.9"/>
<text x="196.50" y="246.45" font-size="9.92" text-anchor="end" textLength="13.93" lengthAdjust="spacingAndGlyphs" stroke="#000" style="stroke-width:0.16px">−4</text>
<line x1="205.40" y1="242.90" x2="205.40" y2="246.10" stroke="#333" stroke-width="0.9"/>
<text x="205.40" y="254.70" font-size="9.92" text-anchor="middle" textLength="19.94" lengthAdjust="spacingAndGlyphs" stroke="#000" style="stroke-width:0.16px">−80</text>
<line x1="245.60" y1="242.90" x2="245.60" y2="246.10" stroke="#333" stroke-width="0.9"/>
<text x="245.60" y="254.70" font-size="9.92" text-anchor="middle" textLength="19.94" lengthAdjust="spacingAndGlyphs" stroke="#000" style="stroke-width:0.16px">−60</text>
<line x1="285.80" y1="242.90" x2="285.80" y2="246.10" stroke="#333" stroke-width="0.9"/>
<text x="285.80" y="254.70" font-size="9.92" text-anchor="middle" textLength="19.94" lengthAdjust="spacingAndGlyphs" stroke="#000" style="stroke-width:0.16px">−40</text>
<line x1="326.00" y1="242.90" x2="326.00" y2="246.10" stroke="#333" stroke-width="0.9"/>
<text x="326.00" y="254.70" font-size="9.92" text-anchor="middle" textLength="19.94" lengthAdjust="spacingAndGlyphs" stroke="#000" style="stroke-width:0.16px">−20</text>
<line x1="366.20" y1="242.90" x2="366.20" y2="246.10" stroke="#333" stroke-width="0.9"/>
<text x="366.20" y="254.70" font-size="9.92" text-anchor="middle" textLength="6.01" lengthAdjust="spacingAndGlyphs" stroke="#000" style="stroke-width:0.16px">0</text>
<line x1="406.40" y1="242.90" x2="406.40" y2="246.10" stroke="#333" stroke-width="0.9"/>
<text x="406.40" y="254.70" font-size="9.92" text-anchor="middle" textLength="12.02" lengthAdjust="spacingAndGlyphs" stroke="#000" style="stroke-width:0.16px">20</text>
<text x="305.75" y="267.30" font-size="11.29" text-anchor="middle" textLength="103.52" lengthAdjust="spacingAndGlyphs" stroke="#000">Test Potential (mV)</text>
<text x="165.00" y="199.60" font-size="11.29" text-anchor="middle" textLength="65.93" lengthAdjust="spacingAndGlyphs" stroke="#000" transform="rotate(-90 165.00 199.60)">Peak Inward</text>
<text x="176.90" y="199.60" font-size="11.29" text-anchor="middle" textLength="66.77" lengthAdjust="spacingAndGlyphs" stroke="#000" transform="rotate(-90 176.90 199.60)">Current (nA)</text>
<text x="149.20" y="155.10" font-size="13.44" textLength="9.86" lengthAdjust="spacingAndGlyphs" stroke="#000">D</text>
<rect x="476.35" y="186.74" width="12.30" height="80.06" fill="#333333"/>
<line x1="482.50" y1="183.40" x2="482.50" y2="190.09" stroke="#000" stroke-width="1.1"/>
<rect x="499.35" y="169.35" width="12.30" height="97.45" fill="#888888"/>
<line x1="505.50" y1="167.79" x2="505.50" y2="170.91" stroke="#000" stroke-width="1.1"/>
<rect x="522.35" y="214.62" width="12.30" height="52.18" fill="#ee1c25"/>
<line x1="528.50" y1="213.28" x2="528.50" y2="215.96" stroke="#000" stroke-width="1.1"/>
<rect x="545.35" y="187.08" width="12.30" height="79.72" fill="#3a6db4"/>
<line x1="551.50" y1="185.07" x2="551.50" y2="189.08" stroke="#000" stroke-width="1.1"/>
<line x1="482.10" y1="160.20" x2="529.30" y2="160.20" stroke="#000" stroke-width="1.5"/>
<line x1="505.00" y1="157.20" x2="552.00" y2="157.20" stroke="#000" stroke-width="1.5"/>
<line x1="482.10" y1="164.10" x2="506.00" y2="164.10" stroke="#888" stroke-width="1.5"/>
<line x1="528.30" y1="164.10" x2="552.00" y2="164.10" stroke="#888" stroke-width="1.5"/>
<text x="521.0" y="156.6" font-size="6.8" stroke="#000" text-anchor="middle" textLength="11.6" lengthAdjust="spacingAndGlyphs">***</text>
<line x1="472.30" y1="152.10" x2="472.30" y2="267.10" stroke="#999" stroke-width="1.2"/>
<line x1="471.80" y1="266.60" x2="561.40" y2="266.60" stroke="#999" stroke-width="1.2"/>
<line x1="469.10" y1="266.80" x2="472.30" y2="266.80" stroke="#333" stroke-width="0.9"/>
<text x="467.50" y="270.15" font-size="9.92" text-anchor="end" textLength="5.71" lengthAdjust="spacingAndGlyphs" stroke="#000" style="stroke-width:0.16px">0</text>
<line x1="469.10" y1="244.50" x2="472.30" y2="244.50" stroke="#333" stroke-width="0.9"/>
<text x="467.50" y="247.85" font-size="9.92" text-anchor="end" textLength="11.42" lengthAdjust="spacingAndGlyphs" stroke="#000" style="stroke-width:0.16px">20</text>
<line x1="469.10" y1="222.20" x2="472.30" y2="222.20" stroke="#333" stroke-width="0.9"/>
<text x="467.50" y="225.55" font-size="9.92" text-anchor="end" textLength="11.42" lengthAdjust="spacingAndGlyphs" stroke="#000" style="stroke-width:0.16px">40</text>
<line x1="469.10" y1="199.90" x2="472.30" y2="199.90" stroke="#333" stroke-width="0.9"/>
<text x="467.50" y="203.25" font-size="9.92" text-anchor="end" textLength="11.42" lengthAdjust="spacingAndGlyphs" stroke="#000" style="stroke-width:0.16px">60</text>
<line x1="469.10" y1="177.60" x2="472.30" y2="177.60" stroke="#333" stroke-width="0.9"/>
<text x="467.50" y="180.95" font-size="9.92" text-anchor="end" textLength="11.42" lengthAdjust="spacingAndGlyphs" stroke="#000" style="stroke-width:0.16px">80</text>
<line x1="469.10" y1="155.30" x2="472.30" y2="155.30" stroke="#333" stroke-width="0.9"/>
<text x="467.50" y="158.65" font-size="9.92" text-anchor="end" textLength="17.14" lengthAdjust="spacingAndGlyphs" stroke="#000" style="stroke-width:0.16px">100</text>
<line x1="482.50" y1="266.60" x2="482.50" y2="269.80" stroke="#333" stroke-width="0.9"/>
<text x="482.50" y="277.90" font-size="9.92" text-anchor="middle" textLength="5.97" lengthAdjust="spacingAndGlyphs" stroke="#000" style="stroke-width:0.16px">E</text>
<line x1="505.50" y1="266.60" x2="505.50" y2="269.80" stroke="#333" stroke-width="0.9"/>
<text x="505.50" y="277.90" font-size="9.92" text-anchor="middle" textLength="7.44" lengthAdjust="spacingAndGlyphs" stroke="#000" style="stroke-width:0.16px">O</text>
<line x1="528.50" y1="266.60" x2="528.50" y2="269.80" stroke="#333" stroke-width="0.9"/>
<text x="528.50" y="277.90" font-size="9.92" text-anchor="middle" textLength="19.86" lengthAdjust="spacingAndGlyphs" stroke="#000" style="stroke-width:0.16px">E+E</text>
<line x1="551.50" y1="266.60" x2="551.50" y2="269.80" stroke="#333" stroke-width="0.9"/>
<text x="551.50" y="277.90" font-size="9.92" text-anchor="middle" textLength="21.33" lengthAdjust="spacingAndGlyphs" stroke="#000" style="stroke-width:0.16px">O+E</text>
<g transform="translate(445.0 240.0) rotate(-90)">
<text x="1.60" y="-5.90" font-size="7.14" stroke="#000">Δ</text>
<text x="6.00" y="-5.90" font-size="6.93" textLength="4.51" lengthAdjust="spacingAndGlyphs" stroke="#000" font-style="italic">V</text>
<text x="10.20" y="-4.90" font-size="4.83" textLength="4.48" lengthAdjust="spacingAndGlyphs" stroke="#000" font-style="italic">m</text>
<line x1="0.30" y1="-2.50" x2="14.80" y2="-2.50" stroke="#000" stroke-width="0.7"/>
<text x="3.80" y="3.60" font-size="7.14" stroke="#000">Δ</text>
<text x="8.30" y="3.60" font-size="7.14" textLength="2.67" lengthAdjust="spacingAndGlyphs" stroke="#000" font-style="italic">t</text>
<text x="20.06" y="0.00" font-size="10.29" textLength="41.85" lengthAdjust="spacingAndGlyphs" stroke="#000">(mV/ms)</text>
</g>
<text x="430.60" y="155.10" font-size="13.44" textLength="8.09" lengthAdjust="spacingAndGlyphs" stroke="#000">E</text>
</svg>
</body></html>
